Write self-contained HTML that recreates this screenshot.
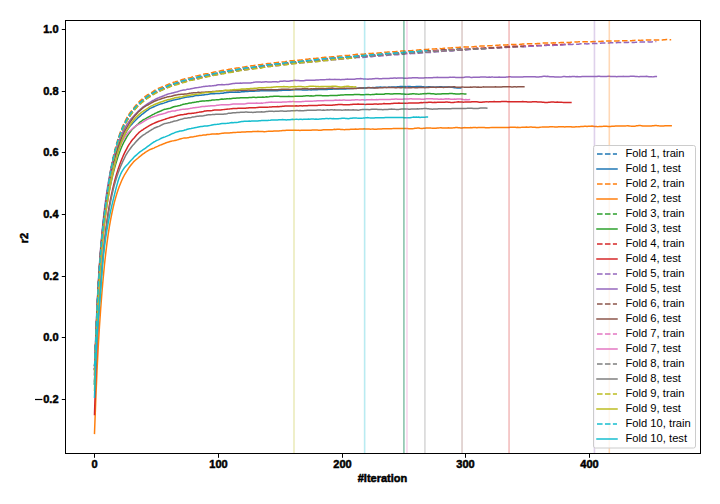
<!DOCTYPE html><html><head><meta charset="utf-8"><style>html,body{margin:0;padding:0;background:#fff;}svg{display:block;}</style></head><body><svg width="720" height="504" viewBox="0 0 720 504">
<rect x="0" y="0" width="720" height="504" fill="#ffffff"/>
<defs><clipPath id="ax"><rect x="65.5" y="20.5" width="635" height="433"/></clipPath></defs>
<g clip-path="url(#ax)" fill="none" stroke-width="1.5" stroke-linejoin="round" stroke-linecap="butt">
<path d="M94.50 368.98 L95.74 341.34 L96.97 312.44 L98.21 288.50 L99.45 268.82 L100.69 252.44 L101.92 238.61 L103.16 226.60 L104.40 215.76 L105.64 205.67 L106.88 196.17 L108.11 187.33 L109.35 179.27 L110.59 171.99 L111.83 165.43 L113.06 159.49 L114.30 154.09 L115.54 149.18 L116.78 144.71 L118.01 140.62 L119.25 136.87 L120.49 133.44 L121.72 130.30 L122.96 127.40 L124.20 124.73 L125.44 122.18 L126.68 119.83 L127.91 117.77 L129.15 115.74 L130.39 114.01 L131.62 112.22 L132.86 110.58 L134.10 109.02 L135.34 107.53 L136.57 106.14 L137.81 104.87 L139.05 103.69 L140.29 102.62 L141.53 101.52 L142.76 100.46 L144.00 99.44 L145.24 98.33 L146.47 97.32 L147.71 96.46 L148.95 95.53 L150.19 94.66 L151.43 93.91 L152.66 93.21 L153.90 92.41 L155.14 91.78 L156.38 91.24 L157.61 90.74 L158.85 90.04 L160.09 89.50 L161.32 88.85 L162.56 88.29 L163.80 87.72 L165.04 87.31 L166.28 86.94 L167.51 86.51 L168.75 85.91 L169.99 85.37 L171.23 84.90 L172.46 84.30 L173.70 83.90 L174.94 83.54 L176.18 83.15 L177.41 82.73 L178.65 82.44 L179.89 82.00 L181.12 81.65 L182.36 81.35 L183.60 80.94 L184.84 80.56 L186.07 80.23 L187.31 79.93 L188.55 79.54 L189.79 79.29 L191.03 78.98 L192.26 78.78 L193.50 78.37 L194.74 78.09 L195.98 77.73 L197.21 77.50 L198.45 77.11 L199.69 76.90 L200.93 76.56 L202.16 76.39 L203.40 76.01 L204.64 75.70 L205.88 75.47 L207.11 75.26 L208.35 74.98 L209.59 74.74 L210.82 74.52 L212.06 74.15 L213.30 73.90 L214.54 73.63 L215.78 73.37 L217.01 73.15 L218.25 72.92 L219.49 72.73 L220.73 72.40 L221.96 72.19 L223.20 71.96 L224.44 71.74 L225.68 71.52 L226.91 71.39 L228.15 71.16 L229.39 70.97 L230.62 70.80 L231.86 70.59 L233.10 70.37 L234.34 70.15 L235.58 69.85 L236.81 69.72 L238.05 69.43 L239.29 69.18 L240.53 68.97 L241.76 68.87 L243.00 68.65 L244.24 68.55 L245.47 68.44 L246.71 68.40 L247.95 68.23 L249.19 68.00 L250.43 67.82 L251.66 67.59 L252.90 67.41 L254.14 67.18 L255.38 67.03 L256.61 66.84 L257.85 66.64 L259.09 66.42 L260.33 66.18 L261.56 65.95 L262.80 65.72 L264.04 65.59 L265.27 65.43 L266.51 65.38 L267.75 65.31 L268.99 65.20 L270.23 65.04 L271.46 64.79 L272.70 64.64 L273.94 64.44 L275.18 64.23 L276.41 64.10 L277.65 64.04 L278.89 63.94 L280.12 63.72 L281.36 63.64 L282.60 63.52 L283.84 63.45 L285.08 63.33 L286.31 63.24 L287.55 63.08 L288.79 62.82 L290.02 62.62 L291.26 62.41 L292.50 62.22 L293.74 62.23 L294.98 62.06 L296.21 61.94 L297.45 61.89 L298.69 61.78 L299.93 61.51 L301.16 61.43 L302.40 61.21 L303.64 61.01 L304.88 60.94 L306.11 60.87 L307.35 60.77 L308.59 60.77 L309.83 60.67 L311.06 60.50 L312.30 60.39 L313.54 60.26 L314.77 59.99 L316.01 59.85 L317.25 59.78 L318.49 59.57 L319.73 59.46 L320.96 59.40 L322.20 59.19 L323.44 58.99 L324.68 58.85 L325.91 58.69 L327.15 58.50 L328.39 58.55 L329.62 58.39 L330.86 58.39 L332.10 58.34 L333.34 58.35 L334.58 58.13 L335.81 58.13 L337.05 57.93 L338.29 57.97 L339.52 57.77 L340.76 57.68 L342.00 57.69 L343.24 57.52 L344.48 57.28 L345.71 57.25 L346.95 57.13 L348.19 56.95 L349.43 56.90 L350.66 56.80 L351.90 56.71 L353.14 56.68 L354.38 56.51 L355.61 56.42 L356.85 56.34 L358.09 56.22 L359.32 56.10 L360.56 55.93 L361.80 55.82 L363.04 55.67 L364.28 55.47 L365.51 55.36 L366.75 55.42 L367.99 55.36 L369.23 55.27 L370.46 55.25 L371.70 55.14 L372.94 54.98 L374.18 54.88 L375.41 54.85 L376.65 54.71 L377.89 54.61 L379.12 54.54 L380.36 54.39 L381.60 54.23 L382.84 54.23 L384.07 54.16 L385.31 54.12 L386.55 54.11 L387.79 54.02 L389.03 53.90 L390.26 53.82 L391.50 53.73 L392.74 53.51 L393.98 53.46 L395.21 53.33 L396.45 53.20 L397.69 53.09 L398.93 53.05 L400.16 52.93 L401.40 52.79 L402.64 52.67 L403.88 52.60 L405.11 52.54 L406.35 52.46 L407.59 52.44 L408.82 52.45 L410.06 52.38 L411.30 52.30 L412.54 52.19 L413.78 52.16 L415.01 51.92 L416.25 51.72 L417.49 51.66 L418.73 51.49 L419.96 51.42 L421.20 51.48 L422.44 51.48 L423.68 51.32 L424.91 51.38 L426.15 51.18 L427.39 51.04 L428.62 50.93 L429.86 50.90 L431.10 50.84 L432.34 50.76 L433.57 50.74 L434.81 50.68 L436.05 50.57 L437.29 50.46 L438.53 50.33 L439.76 50.13 L441.00 50.09 L442.24 50.04 L443.48 49.95 L444.71 49.86 L445.95 49.88 L447.19 49.75 L448.43 49.69 L449.66 49.62 L450.90 49.70 L452.14 49.58 L453.38 49.51 L454.61 49.46 L455.85 49.30 L457.09 49.18 L458.32 49.17 L459.56 49.07 L460.80 48.96" stroke="#1f77b4" stroke-dasharray="5.55 2.4" stroke-dashoffset="5.0"/>
<path d="M94.50 384.07 L95.74 346.62 L96.97 314.50 L98.21 288.95 L99.45 268.22 L100.69 251.04 L101.92 236.52 L103.16 224.07 L104.40 213.26 L105.64 203.78 L106.88 195.41 L108.11 187.96 L109.35 181.29 L110.59 175.29 L111.83 169.87 L113.06 164.96 L114.30 160.49 L115.54 156.42 L116.78 152.69 L118.01 149.27 L119.25 146.11 L120.49 143.20 L121.72 140.49 L122.96 137.98 L124.20 135.64 L125.44 133.35 L126.68 131.22 L127.91 129.21 L129.15 127.35 L130.39 125.84 L131.62 124.39 L132.86 122.95 L134.10 121.70 L135.34 120.56 L136.57 119.28 L137.81 117.94 L139.05 116.91 L140.29 115.82 L141.53 114.69 L142.76 113.96 L144.00 112.93 L145.24 111.93 L146.47 110.93 L147.71 110.07 L148.95 109.11 L150.19 108.42 L151.43 107.83 L152.66 107.25 L153.90 106.79 L155.14 106.14 L156.38 105.66 L157.61 105.06 L158.85 104.62 L160.09 104.10 L161.32 103.79 L162.56 103.42 L163.80 103.11 L165.04 102.57 L166.28 102.18 L167.51 101.76 L168.75 101.32 L169.99 100.93 L171.23 100.70 L172.46 100.27 L173.70 99.97 L174.94 99.74 L176.18 99.47 L177.41 99.19 L178.65 99.06 L179.89 98.69 L181.12 98.36 L182.36 97.92 L183.60 97.69 L184.84 97.43 L186.07 97.13 L187.31 97.02 L188.55 96.99 L189.79 96.80 L191.03 96.57 L192.26 96.53 L193.50 96.16 L194.74 95.84 L195.98 95.63 L197.21 95.42 L198.45 95.39 L199.69 95.26 L200.93 95.30 L202.16 95.00 L203.40 95.01 L204.64 94.71 L205.88 94.60 L207.11 94.42 L208.35 94.24 L209.59 93.99 L210.82 93.76 L212.06 93.66 L213.30 93.45 L214.54 93.66 L215.78 93.56 L217.01 93.59 L218.25 93.54 L219.49 93.51 L220.73 93.33 L221.96 93.19 L223.20 93.16 L224.44 92.80 L225.68 92.72 L226.91 92.53 L228.15 92.39 L229.39 92.26 L230.62 92.34 L231.86 92.28 L233.10 92.27 L234.34 92.32 L235.58 92.37 L236.81 92.27 L238.05 92.11 L239.29 92.18 L240.53 92.04 L241.76 91.76 L243.00 91.77 L244.24 91.68 L245.47 91.38 L246.71 91.28 L247.95 91.39 L249.19 91.36 L250.43 91.36 L251.66 91.27 L252.90 91.25 L254.14 91.26 L255.38 91.11 L256.61 91.06 L257.85 91.11 L259.09 91.08 L260.33 90.81 L261.56 90.84 L262.80 90.79 L264.04 90.66 L265.27 90.60 L266.51 90.74 L267.75 90.87 L268.99 90.80 L270.23 90.71 L271.46 90.82 L272.70 90.82 L273.94 90.67 L275.18 90.63 L276.41 90.71 L277.65 90.65 L278.89 90.52 L280.12 90.33 L281.36 90.40 L282.60 90.30 L283.84 90.24 L285.08 90.23 L286.31 90.24 L287.55 90.13 L288.79 90.33 L290.02 90.16 L291.26 90.06 L292.50 89.98 L293.74 90.04 L294.98 89.78 L296.21 89.82 L297.45 89.67 L298.69 89.83 L299.93 89.77 L301.16 89.86 L302.40 89.93 L303.64 90.02 L304.88 89.88 L306.11 89.96 L307.35 89.96 L308.59 89.81 L309.83 89.82 L311.06 89.90 L312.30 89.71 L313.54 89.65 L314.77 89.70 L316.01 89.69 L317.25 89.66 L318.49 89.58 L319.73 89.60 L320.96 89.45 L322.20 89.62 L323.44 89.55 L324.68 89.58 L325.91 89.49 L327.15 89.61 L328.39 89.33 L329.62 89.28 L330.86 89.27 L332.10 89.18 L333.34 89.02 L334.58 89.02 L335.81 88.99 L337.05 88.94 L338.29 88.91 L339.52 88.91 L340.76 88.96 L342.00 88.86 L343.24 88.91 L344.48 88.93 L345.71 88.90 L346.95 88.76 L348.19 88.77 L349.43 88.66 L350.66 88.46 L351.90 88.50 L353.14 88.47 L354.38 88.33 L355.61 88.28 L356.85 88.38 L358.09 88.17 L359.32 88.07 L360.56 88.12 L361.80 88.07 L363.04 88.02 L364.28 87.86 L365.51 87.88 L366.75 87.81 L367.99 87.61 L369.23 87.60 L370.46 87.76 L371.70 87.68 L372.94 87.59 L374.18 87.68 L375.41 87.42 L376.65 87.32 L377.89 87.20 L379.12 87.18 L380.36 86.96 L381.60 87.16 L382.84 87.25 L384.07 87.27 L385.31 87.29 L386.55 87.38 L387.79 87.26 L389.03 87.11 L390.26 87.14 L391.50 87.07 L392.74 87.02 L393.98 87.07 L395.21 87.05 L396.45 86.92 L397.69 86.73 L398.93 86.66 L400.16 86.57 L401.40 86.58 L402.64 86.55 L403.88 86.63 L405.11 86.59 L406.35 86.69 L407.59 86.57 L408.82 86.57 L410.06 86.61 L411.30 86.78 L412.54 86.67 L413.78 86.74 L415.01 86.70 L416.25 86.61 L417.49 86.60 L418.73 86.48 L419.96 86.52 L421.20 86.55 L422.44 86.79 L423.68 86.76 L424.91 86.93 L426.15 86.94 L427.39 87.01 L428.62 86.83 L429.86 86.85 L431.10 86.89 L432.34 86.92 L433.57 87.07 L434.81 87.25 L436.05 87.12 L437.29 87.07 L438.53 87.00 L439.76 86.86 L441.00 86.72 L442.24 87.05 L443.48 87.02 L444.71 87.01 L445.95 87.00 L447.19 87.10 L448.43 86.92 L449.66 87.09 L450.90 87.15 L452.14 87.36 L453.38 87.57 L454.61 87.73 L455.85 87.82 L457.09 87.96 L458.32 87.96 L459.56 87.89 L460.80 87.95" stroke="#1f77b4" stroke-linecap="square"/>
<path d="M94.50 367.28 L95.74 339.64 L96.97 310.75 L98.21 286.80 L99.45 267.12 L100.69 250.74 L101.92 236.91 L103.16 224.91 L104.40 214.06 L105.64 203.98 L106.88 194.47 L108.11 185.64 L109.35 177.57 L110.59 170.30 L111.83 163.74 L113.06 157.79 L114.30 152.40 L115.54 147.49 L116.78 143.01 L118.01 138.92 L119.25 135.18 L120.49 131.75 L121.72 128.60 L122.96 125.71 L124.20 123.03 L125.44 120.51 L126.68 118.14 L127.91 115.90 L129.15 114.01 L130.39 112.23 L131.62 110.60 L132.86 109.02 L134.10 107.55 L135.34 105.94 L136.57 104.49 L137.81 103.11 L139.05 101.86 L140.29 100.63 L141.53 99.66 L142.76 98.49 L144.00 97.43 L145.24 96.43 L146.47 95.57 L147.71 94.71 L148.95 94.07 L150.19 93.39 L151.43 92.65 L152.66 91.82 L153.90 90.95 L155.14 90.08 L156.38 89.34 L157.61 88.73 L158.85 88.18 L160.09 87.67 L161.32 87.26 L162.56 86.70 L163.80 86.17 L165.04 85.65 L166.28 85.16 L167.51 84.59 L168.75 84.07 L169.99 83.62 L171.23 83.13 L172.46 82.68 L173.70 82.28 L174.94 81.94 L176.18 81.55 L177.41 81.20 L178.65 80.76 L179.89 80.30 L181.12 79.96 L182.36 79.51 L183.60 79.15 L184.84 78.83 L186.07 78.66 L187.31 78.40 L188.55 78.10 L189.79 77.81 L191.03 77.43 L192.26 77.01 L193.50 76.57 L194.74 76.24 L195.98 75.89 L197.21 75.79 L198.45 75.59 L199.69 75.27 L200.93 74.96 L202.16 74.68 L203.40 74.28 L204.64 73.99 L205.88 73.75 L207.11 73.67 L208.35 73.47 L209.59 73.17 L210.82 72.85 L212.06 72.64 L213.30 72.25 L214.54 72.01 L215.78 71.83 L217.01 71.62 L218.25 71.37 L219.49 71.21 L220.73 70.82 L221.96 70.56 L223.20 70.29 L224.44 70.10 L225.68 69.84 L226.91 69.75 L228.15 69.52 L229.39 69.26 L230.62 69.04 L231.86 68.76 L233.10 68.57 L234.34 68.37 L235.58 68.20 L236.81 68.10 L238.05 68.07 L239.29 67.84 L240.53 67.60 L241.76 67.44 L243.00 67.14 L244.24 66.94 L245.47 66.72 L246.71 66.53 L247.95 66.44 L249.19 66.23 L250.43 65.89 L251.66 65.75 L252.90 65.66 L254.14 65.45 L255.38 65.30 L256.61 65.20 L257.85 64.99 L259.09 64.81 L260.33 64.65 L261.56 64.42 L262.80 64.23 L264.04 64.05 L265.27 63.91 L266.51 63.76 L267.75 63.61 L268.99 63.53 L270.23 63.43 L271.46 63.20 L272.70 63.04 L273.94 62.86 L275.18 62.66 L276.41 62.55 L277.65 62.41 L278.89 62.21 L280.12 62.21 L281.36 62.11 L282.60 62.00 L283.84 61.96 L285.08 61.78 L286.31 61.48 L287.55 61.24 L288.79 61.12 L290.02 60.86 L291.26 60.73 L292.50 60.70 L293.74 60.58 L294.98 60.41 L296.21 60.35 L297.45 60.29 L298.69 60.16 L299.93 60.12 L301.16 59.89 L302.40 59.76 L303.64 59.61 L304.88 59.47 L306.11 59.18 L307.35 59.15 L308.59 58.95 L309.83 58.71 L311.06 58.61 L312.30 58.64 L313.54 58.48 L314.77 58.45 L316.01 58.36 L317.25 58.20 L318.49 57.99 L319.73 57.82 L320.96 57.63 L322.20 57.53 L323.44 57.40 L324.68 57.29 L325.91 57.26 L327.15 57.18 L328.39 57.05 L329.62 57.03 L330.86 56.94 L332.10 56.78 L333.34 56.66 L334.58 56.64 L335.81 56.36 L337.05 56.35 L338.29 56.18 L339.52 56.02 L340.76 55.89 L342.00 55.85 L343.24 55.63 L344.48 55.60 L345.71 55.59 L346.95 55.44 L348.19 55.38 L349.43 55.32 L350.66 55.19 L351.90 54.97 L353.14 54.79 L354.38 54.63 L355.61 54.50 L356.85 54.36 L358.09 54.28 L359.32 54.35 L360.56 54.29 L361.80 54.26 L363.04 54.16 L364.28 54.02 L365.51 53.82 L366.75 53.74 L367.99 53.54 L369.23 53.52 L370.46 53.47 L371.70 53.45 L372.94 53.37 L374.18 53.39 L375.41 53.24 L376.65 53.19 L377.89 53.01 L379.12 52.91 L380.36 52.73 L381.60 52.66 L382.84 52.48 L384.07 52.35 L385.31 52.21 L386.55 52.13 L387.79 52.00 L389.03 51.94 L390.26 51.92 L391.50 51.76 L392.74 51.70 L393.98 51.72 L395.21 51.64 L396.45 51.54 L397.69 51.46 L398.93 51.32 L400.16 51.13 L401.40 51.05 L402.64 50.95 L403.88 50.93 L405.11 50.94 L406.35 50.90 L407.59 50.82 L408.82 50.85 L410.06 50.75 L411.30 50.66 L412.54 50.54 L413.78 50.49 L415.01 50.29 L416.25 50.19 L417.49 50.00 L418.73 49.92 L419.96 49.81 L421.20 49.73 L422.44 49.73 L423.68 49.76 L424.91 49.59 L426.15 49.47 L427.39 49.39 L428.62 49.17 L429.86 49.04 L431.10 49.04 L432.34 49.00 L433.57 49.02 L434.81 48.94 L436.05 48.87 L437.29 48.78 L438.53 48.70 L439.76 48.57 L441.00 48.65 L442.24 48.56 L443.48 48.37 L444.71 48.23 L445.95 48.13 L447.19 47.99 L448.43 47.92 L449.66 47.94 L450.90 47.92 L452.14 47.79 L453.38 47.71 L454.61 47.59 L455.85 47.53 L457.09 47.48 L458.32 47.46 L459.56 47.32 L460.80 47.27 L462.04 47.20 L463.28 47.07 L464.51 46.87 L465.75 46.90 L466.99 46.96 L468.23 46.89 L469.46 46.90 L470.70 46.94 L471.94 46.87 L473.18 46.70 L474.41 46.57 L475.65 46.40 L476.89 46.40 L478.12 46.26 L479.36 46.16 L480.60 46.07 L481.84 46.11 L483.07 46.03 L484.31 45.89 L485.55 45.89 L486.79 45.97 L488.03 45.80 L489.26 45.78 L490.50 45.81 L491.74 45.68 L492.98 45.59 L494.21 45.55 L495.45 45.46 L496.69 45.33 L497.93 45.29 L499.16 45.12 L500.40 45.11 L501.64 45.01 L502.88 44.99 L504.11 44.90 L505.35 44.96 L506.59 44.89 L507.82 44.72 L509.06 44.62 L510.30 44.58 L511.54 44.51 L512.78 44.40 L514.01 44.50 L515.25 44.56 L516.49 44.58 L517.73 44.43 L518.96 44.41 L520.20 44.34 L521.44 44.23 L522.67 44.11 L523.91 44.06 L525.15 44.10 L526.39 43.93 L527.62 43.82 L528.86 43.82 L530.10 43.85 L531.34 43.69 L532.58 43.72 L533.81 43.70 L535.05 43.67 L536.29 43.69 L537.53 43.54 L538.76 43.47 L540.00 43.42 L541.24 43.29 L542.48 43.08 L543.71 43.11 L544.95 43.12 L546.19 43.09 L547.42 43.06 L548.66 43.04 L549.90 43.07 L551.14 42.95 L552.38 42.89 L553.61 42.78 L554.85 42.90 L556.09 42.82 L557.33 42.77 L558.56 42.70 L559.80 42.73 L561.04 42.59 L562.28 42.52 L563.51 42.47 L564.75 42.51 L565.99 42.53 L567.23 42.42 L568.46 42.45 L569.70 42.39 L570.94 42.23 L572.17 42.11 L573.41 42.09 L574.65 42.00 L575.89 41.92 L577.12 41.88 L578.36 41.85 L579.60 41.78 L580.84 41.75 L582.08 41.80 L583.31 41.79 L584.55 41.76 L585.79 41.80 L587.03 41.84 L588.26 41.72 L589.50 41.77 L590.74 41.78 L591.98 41.72 L593.21 41.57 L594.45 41.67 L595.69 41.55 L596.92 41.44 L598.16 41.45 L599.40 41.51 L600.64 41.39 L601.88 41.30 L603.11 41.29 L604.35 41.14 L605.59 41.01 L606.83 41.04 L608.06 41.10 L609.30 41.01 L610.54 41.05 L611.77 41.00 L613.01 40.95 L614.25 40.99 L615.49 41.02 L616.73 40.93 L617.96 40.98 L619.20 40.85 L620.44 40.82 L621.68 40.80 L622.91 40.73 L624.15 40.80 L625.39 40.80 L626.62 40.74 L627.86 40.72 L629.10 40.77 L630.34 40.69 L631.58 40.63 L632.81 40.53 L634.05 40.41 L635.29 40.35 L636.52 40.30 L637.76 40.28 L639.00 40.35 L640.24 40.43 L641.48 40.31 L642.71 40.18 L643.95 40.16 L645.19 40.00 L646.43 39.94 L647.66 39.99 L648.90 40.06 L650.14 40.07 L651.38 40.11 L652.61 40.00 L653.85 40.04 L655.09 39.92 L656.33 39.88 L657.56 39.95 L658.80 40.09 L660.04 40.07 L661.27 40.04 L662.51 40.01 L663.75 39.81 L664.99 39.68 L666.23 39.55 L667.46 39.57 L668.70 39.61 L669.94 39.67 L671.18 39.66" stroke="#ff7f0e" stroke-dasharray="5.55 2.4" stroke-dashoffset="6.0"/>
<path d="M94.50 433.39 L95.74 400.37 L96.97 371.52 L98.21 347.34 L99.45 326.67 L100.69 308.64 L101.92 292.65 L103.16 278.32 L104.40 265.49 L105.64 254.08 L106.88 243.94 L108.11 234.94 L109.35 226.95 L110.59 219.84 L111.83 213.49 L113.06 207.80 L114.30 202.68 L115.54 198.05 L116.78 193.85 L118.01 190.04 L119.25 186.57 L120.49 183.42 L121.72 180.53 L122.96 177.89 L124.20 175.47 L125.44 173.46 L126.68 171.43 L127.91 169.42 L129.15 167.47 L130.39 165.80 L131.62 164.21 L132.86 162.83 L134.10 161.33 L135.34 160.28 L136.57 159.23 L137.81 158.21 L139.05 157.11 L140.29 156.22 L141.53 155.12 L142.76 154.18 L144.00 153.36 L145.24 152.35 L146.47 151.67 L147.71 150.87 L148.95 150.06 L150.19 149.41 L151.43 149.05 L152.66 148.46 L153.90 148.12 L155.14 147.44 L156.38 146.88 L157.61 146.32 L158.85 145.70 L160.09 145.16 L161.32 144.77 L162.56 144.24 L163.80 143.67 L165.04 143.28 L166.28 142.68 L167.51 142.34 L168.75 141.96 L169.99 141.56 L171.23 141.20 L172.46 140.88 L173.70 140.72 L174.94 140.39 L176.18 140.14 L177.41 139.87 L178.65 139.57 L179.89 138.94 L181.12 138.66 L182.36 138.37 L183.60 138.12 L184.84 137.99 L186.07 137.90 L187.31 137.80 L188.55 137.64 L189.79 137.33 L191.03 137.09 L192.26 136.90 L193.50 136.68 L194.74 136.39 L195.98 136.26 L197.21 136.05 L198.45 135.81 L199.69 135.50 L200.93 135.48 L202.16 135.35 L203.40 135.11 L204.64 135.03 L205.88 134.93 L207.11 134.52 L208.35 134.44 L209.59 134.38 L210.82 134.16 L212.06 133.95 L213.30 134.02 L214.54 133.90 L215.78 133.89 L217.01 133.85 L218.25 133.99 L219.49 133.73 L220.73 133.61 L221.96 133.35 L223.20 133.20 L224.44 132.98 L225.68 133.02 L226.91 132.98 L228.15 133.02 L229.39 132.94 L230.62 132.87 L231.86 132.79 L233.10 132.58 L234.34 132.38 L235.58 132.40 L236.81 132.31 L238.05 132.19 L239.29 132.16 L240.53 132.23 L241.76 132.04 L243.00 131.94 L244.24 132.01 L245.47 131.99 L246.71 131.86 L247.95 131.80 L249.19 131.87 L250.43 131.82 L251.66 131.67 L252.90 131.44 L254.14 131.48 L255.38 131.42 L256.61 131.38 L257.85 131.29 L259.09 131.48 L260.33 131.56 L261.56 131.59 L262.80 131.59 L264.04 131.68 L265.27 131.63 L266.51 131.42 L267.75 131.35 L268.99 131.18 L270.23 131.22 L271.46 131.14 L272.70 131.15 L273.94 131.01 L275.18 131.12 L276.41 131.04 L277.65 131.05 L278.89 130.90 L280.12 130.87 L281.36 130.65 L282.60 130.52 L283.84 130.40 L285.08 130.47 L286.31 130.35 L287.55 130.36 L288.79 130.36 L290.02 130.31 L291.26 130.18 L292.50 130.28 L293.74 130.18 L294.98 130.20 L296.21 130.20 L297.45 130.37 L298.69 130.27 L299.93 130.40 L301.16 130.29 L302.40 130.28 L303.64 130.15 L304.88 130.30 L306.11 130.24 L307.35 130.26 L308.59 130.25 L309.83 130.25 L311.06 130.15 L312.30 130.00 L313.54 129.98 L314.77 129.94 L316.01 130.08 L317.25 130.12 L318.49 130.23 L319.73 130.26 L320.96 130.35 L322.20 130.07 L323.44 129.84 L324.68 129.75 L325.91 129.71 L327.15 129.72 L328.39 129.80 L329.62 129.72 L330.86 129.73 L332.10 129.69 L333.34 129.56 L334.58 129.35 L335.81 129.49 L337.05 129.30 L338.29 129.23 L339.52 129.25 L340.76 129.38 L342.00 129.39 L343.24 129.56 L344.48 129.65 L345.71 129.57 L346.95 129.47 L348.19 129.43 L349.43 129.43 L350.66 129.27 L351.90 129.27 L353.14 129.34 L354.38 129.27 L355.61 129.09 L356.85 129.16 L358.09 129.21 L359.32 129.09 L360.56 129.12 L361.80 129.07 L363.04 128.96 L364.28 128.85 L365.51 128.97 L366.75 129.04 L367.99 129.09 L369.23 129.10 L370.46 129.13 L371.70 129.10 L372.94 129.02 L374.18 129.15 L375.41 129.17 L376.65 129.17 L377.89 129.03 L379.12 128.97 L380.36 128.95 L381.60 128.97 L382.84 128.81 L384.07 128.82 L385.31 128.78 L386.55 128.81 L387.79 128.75 L389.03 128.86 L390.26 128.86 L391.50 128.82 L392.74 128.62 L393.98 128.51 L395.21 128.57 L396.45 128.49 L397.69 128.59 L398.93 128.54 L400.16 128.50 L401.40 128.47 L402.64 128.52 L403.88 128.44 L405.11 128.55 L406.35 128.61 L407.59 128.49 L408.82 128.68 L410.06 128.69 L411.30 128.69 L412.54 128.68 L413.78 128.56 L415.01 128.25 L416.25 128.18 L417.49 128.10 L418.73 128.06 L419.96 128.34 L421.20 128.48 L422.44 128.42 L423.68 128.36 L424.91 128.32 L426.15 128.09 L427.39 127.92 L428.62 127.95 L429.86 127.95 L431.10 128.08 L432.34 128.15 L433.57 128.23 L434.81 128.30 L436.05 128.19 L437.29 128.05 L438.53 127.97 L439.76 127.85 L441.00 127.70 L442.24 127.92 L443.48 127.94 L444.71 127.88 L445.95 127.91 L447.19 127.91 L448.43 127.87 L449.66 127.92 L450.90 127.96 L452.14 127.89 L453.38 127.84 L454.61 127.65 L455.85 127.45 L457.09 127.51 L458.32 127.74 L459.56 127.82 L460.80 127.94 L462.04 127.99 L463.28 127.79 L464.51 127.62 L465.75 127.65 L466.99 127.65 L468.23 127.63 L469.46 127.64 L470.70 127.60 L471.94 127.65 L473.18 127.48 L474.41 127.58 L475.65 127.60 L476.89 127.76 L478.12 127.58 L479.36 127.59 L480.60 127.56 L481.84 127.58 L483.07 127.45 L484.31 127.47 L485.55 127.69 L486.79 127.75 L488.03 127.71 L489.26 127.65 L490.50 127.62 L491.74 127.43 L492.98 127.39 L494.21 127.45 L495.45 127.51 L496.69 127.48 L497.93 127.56 L499.16 127.52 L500.40 127.48 L501.64 127.54 L502.88 127.62 L504.11 127.56 L505.35 127.52 L506.59 127.56 L507.82 127.38 L509.06 127.38 L510.30 127.25 L511.54 127.33 L512.78 127.29 L514.01 127.36 L515.25 127.30 L516.49 127.44 L517.73 127.36 L518.96 127.43 L520.20 127.53 L521.44 127.37 L522.67 127.28 L523.91 127.24 L525.15 127.18 L526.39 127.00 L527.62 127.20 L528.86 127.23 L530.10 127.11 L531.34 127.02 L532.58 127.13 L533.81 127.18 L535.05 127.32 L536.29 127.57 L537.53 127.53 L538.76 127.47 L540.00 127.30 L541.24 127.12 L542.48 126.93 L543.71 127.08 L544.95 127.06 L546.19 127.07 L547.42 126.98 L548.66 126.94 L549.90 126.76 L551.14 126.67 L552.38 126.72 L553.61 126.87 L554.85 126.94 L556.09 126.99 L557.33 126.98 L558.56 126.84 L559.80 126.76 L561.04 126.82 L562.28 126.84 L563.51 126.82 L564.75 126.97 L565.99 126.86 L567.23 126.80 L568.46 126.68 L569.70 126.84 L570.94 126.68 L572.17 126.95 L573.41 126.89 L574.65 126.91 L575.89 126.79 L577.12 126.87 L578.36 126.69 L579.60 126.69 L580.84 126.55 L582.08 126.60 L583.31 126.47 L584.55 126.34 L585.79 126.36 L587.03 126.52 L588.26 126.26 L589.50 126.19 L590.74 126.18 L591.98 126.10 L593.21 126.14 L594.45 126.39 L595.69 126.44 L596.92 126.56 L598.16 126.63 L599.40 126.47 L600.64 126.45 L601.88 126.42 L603.11 126.34 L604.35 126.19 L605.59 126.36 L606.83 126.31 L608.06 126.41 L609.30 126.45 L610.54 126.46 L611.77 126.32 L613.01 126.31 L614.25 126.18 L615.49 126.10 L616.73 126.10 L617.96 126.09 L619.20 125.88 L620.44 126.05 L621.68 126.11 L622.91 125.96 L624.15 125.88 L625.39 125.91 L626.62 125.82 L627.86 125.69 L629.10 125.94 L630.34 126.07 L631.58 126.15 L632.81 126.19 L634.05 126.27 L635.29 126.16 L636.52 125.76 L637.76 125.75 L639.00 125.62 L640.24 125.61 L641.48 125.67 L642.71 126.03 L643.95 126.06 L645.19 126.08 L646.43 126.07 L647.66 125.94 L648.90 125.94 L650.14 125.98 L651.38 125.94 L652.61 125.77 L653.85 125.75 L655.09 125.60 L656.33 125.58 L657.56 125.64 L658.80 125.82 L660.04 125.95 L661.27 126.04 L662.51 126.04 L663.75 125.94 L664.99 125.82 L666.23 125.70 L667.46 125.74 L668.70 125.65 L669.94 125.68 L671.18 125.72" stroke="#ff7f0e" stroke-linecap="square"/>
<path d="M94.50 369.28 L95.74 341.65 L96.97 312.75 L98.21 288.81 L99.45 269.13 L100.69 252.75 L101.92 238.92 L103.16 226.91 L104.40 216.06 L105.64 205.98 L106.88 196.48 L108.11 187.64 L109.35 179.58 L110.59 172.30 L111.83 165.74 L113.06 159.80 L114.30 154.40 L115.54 149.49 L116.78 145.02 L118.01 140.92 L119.25 137.18 L120.49 133.75 L121.72 130.61 L122.96 127.71 L124.20 125.04 L125.44 122.45 L126.68 120.22 L127.91 118.30 L129.15 116.29 L130.39 114.33 L131.62 112.41 L132.86 110.74 L134.10 109.07 L135.34 107.68 L136.57 106.39 L137.81 105.15 L139.05 103.92 L140.29 102.91 L141.53 101.76 L142.76 100.69 L144.00 99.74 L145.24 98.75 L146.47 97.66 L147.71 96.91 L148.95 96.05 L150.19 95.23 L151.43 94.54 L152.66 93.84 L153.90 93.06 L155.14 92.45 L156.38 91.81 L157.61 91.16 L158.85 90.61 L160.09 90.01 L161.32 89.46 L162.56 88.93 L163.80 88.30 L165.04 87.71 L166.28 87.15 L167.51 86.51 L168.75 85.93 L169.99 85.52 L171.23 85.12 L172.46 84.66 L173.70 84.29 L174.94 83.86 L176.18 83.45 L177.41 83.02 L178.65 82.77 L179.89 82.39 L181.12 82.15 L182.36 81.80 L183.60 81.40 L184.84 80.94 L186.07 80.63 L187.31 80.20 L188.55 79.93 L189.79 79.63 L191.03 79.25 L192.26 78.87 L193.50 78.67 L194.74 78.22 L195.98 77.90 L197.21 77.73 L198.45 77.56 L199.69 77.21 L200.93 76.91 L202.16 76.63 L203.40 76.35 L204.64 76.01 L205.88 75.68 L207.11 75.49 L208.35 75.28 L209.59 74.95 L210.82 74.81 L212.06 74.59 L213.30 74.41 L214.54 74.15 L215.78 73.92 L217.01 73.58 L218.25 73.41 L219.49 73.12 L220.73 72.85 L221.96 72.71 L223.20 72.52 L224.44 72.25 L225.68 71.97 L226.91 71.79 L228.15 71.54 L229.39 71.24 L230.62 71.07 L231.86 70.80 L233.10 70.52 L234.34 70.20 L235.58 70.08 L236.81 69.89 L238.05 69.81 L239.29 69.74 L240.53 69.67 L241.76 69.38 L243.00 69.22 L244.24 69.03 L245.47 68.71 L246.71 68.48 L247.95 68.32 L249.19 68.09 L250.43 67.92 L251.66 67.84 L252.90 67.67 L254.14 67.55 L255.38 67.37 L256.61 67.19 L257.85 67.01 L259.09 66.77 L260.33 66.54 L261.56 66.45 L262.80 66.27 L264.04 66.01 L265.27 65.83 L266.51 65.76 L267.75 65.51 L268.99 65.35 L270.23 65.41 L271.46 65.33 L272.70 65.02 L273.94 64.92 L275.18 64.79 L276.41 64.46 L277.65 64.35 L278.89 64.32 L280.12 64.12 L281.36 64.03 L282.60 63.91 L283.84 63.81 L285.08 63.64 L286.31 63.47 L287.55 63.17 L288.79 63.10 L290.02 62.88 L291.26 62.73 L292.50 62.73 L293.74 62.68 L294.98 62.49 L296.21 62.34 L297.45 62.12 L298.69 61.89 L299.93 61.75 L301.16 61.64 L302.40 61.53 L303.64 61.48 L304.88 61.28 L306.11 61.20 L307.35 61.06 L308.59 61.06 L309.83 61.04 L311.06 60.99 L312.30 60.92 L313.54 60.78 L314.77 60.47 L316.01 60.31 L317.25 60.23 L318.49 60.00 L319.73 59.93 L320.96 59.88 L322.20 59.75 L323.44 59.55 L324.68 59.42 L325.91 59.28 L327.15 59.27 L328.39 59.16 L329.62 59.09 L330.86 58.95 L332.10 58.87 L333.34 58.61 L334.58 58.42 L335.81 58.34 L337.05 58.23 L338.29 58.09 L339.52 58.07 L340.76 58.00 L342.00 57.80 L343.24 57.71 L344.48 57.59 L345.71 57.38 L346.95 57.24 L348.19 57.19 L349.43 57.19 L350.66 57.22 L351.90 57.24 L353.14 57.08 L354.38 56.96 L355.61 56.84 L356.85 56.57 L358.09 56.46 L359.32 56.43 L360.56 56.32 L361.80 56.15 L363.04 56.05 L364.28 55.84 L365.51 55.83 L366.75 55.79 L367.99 55.66 L369.23 55.63 L370.46 55.64 L371.70 55.39 L372.94 55.28 L374.18 55.23 L375.41 55.16 L376.65 55.00 L377.89 54.92 L379.12 54.86 L380.36 54.71 L381.60 54.56 L382.84 54.47 L384.07 54.43 L385.31 54.31 L386.55 54.29 L387.79 54.28 L389.03 54.15 L390.26 53.98 L391.50 53.86 L392.74 53.77 L393.98 53.60 L395.21 53.57 L396.45 53.62 L397.69 53.61 L398.93 53.51 L400.16 53.39 L401.40 53.33 L402.64 53.12 L403.88 52.98 L405.11 52.81 L406.35 52.70 L407.59 52.54 L408.82 52.51 L410.06 52.41 L411.30 52.36 L412.54 52.29 L413.78 52.12 L415.01 52.01 L416.25 51.86 L417.49 51.75 L418.73 51.71 L419.96 51.70 L421.20 51.61 L422.44 51.56 L423.68 51.55 L424.91 51.39 L426.15 51.37 L427.39 51.32 L428.62 51.26 L429.86 51.15 L431.10 51.16 L432.34 51.12 L433.57 51.06 L434.81 51.04 L436.05 50.87 L437.29 50.80 L438.53 50.73 L439.76 50.52 L441.00 50.49 L442.24 50.55 L443.48 50.39 L444.71 50.25 L445.95 50.26 L447.19 50.03 L448.43 49.81 L449.66 49.75 L450.90 49.66 L452.14 49.61 L453.38 49.64 L454.61 49.71 L455.85 49.63 L457.09 49.61 L458.32 49.50 L459.56 49.43 L460.80 49.39 L462.04 49.35 L463.28 49.27 L464.51 49.21 L465.75 49.11" stroke="#2ca02c" stroke-dasharray="5.55 2.4" stroke-dashoffset="4.9"/>
<path d="M94.50 384.08 L95.74 355.82 L96.97 325.67 L98.21 300.48 L99.45 279.65 L100.69 262.22 L101.92 247.44 L103.16 234.75 L104.40 223.75 L105.64 214.12 L106.88 205.60 L108.11 197.98 L109.35 191.11 L110.59 184.86 L111.83 179.16 L113.06 173.91 L114.30 169.07 L115.54 164.59 L116.78 160.45 L118.01 156.61 L119.25 153.08 L120.49 149.82 L121.72 146.81 L122.96 144.05 L124.20 141.51 L125.44 139.29 L126.68 137.11 L127.91 135.10 L129.15 133.42 L130.39 131.71 L131.62 130.06 L132.86 128.80 L134.10 127.70 L135.34 126.40 L136.57 125.37 L137.81 124.31 L139.05 122.96 L140.29 121.85 L141.53 121.04 L142.76 120.12 L144.00 119.38 L145.24 118.81 L146.47 118.11 L147.71 117.32 L148.95 116.77 L150.19 116.09 L151.43 115.43 L152.66 114.64 L153.90 114.06 L155.14 113.29 L156.38 112.83 L157.61 112.29 L158.85 111.81 L160.09 111.24 L161.32 110.78 L162.56 110.13 L163.80 109.59 L165.04 109.26 L166.28 109.10 L167.51 108.78 L168.75 108.49 L169.99 108.19 L171.23 107.80 L172.46 107.28 L173.70 106.81 L174.94 106.52 L176.18 106.36 L177.41 106.05 L178.65 105.64 L179.89 105.45 L181.12 105.08 L182.36 104.60 L183.60 104.31 L184.84 104.09 L186.07 103.84 L187.31 103.64 L188.55 103.33 L189.79 103.11 L191.03 103.00 L192.26 102.60 L193.50 102.50 L194.74 102.28 L195.98 102.07 L197.21 101.76 L198.45 101.65 L199.69 101.37 L200.93 101.24 L202.16 101.08 L203.40 101.03 L204.64 100.89 L205.88 100.87 L207.11 100.81 L208.35 100.79 L209.59 100.59 L210.82 100.40 L212.06 100.09 L213.30 99.97 L214.54 99.91 L215.78 99.83 L217.01 99.67 L218.25 99.65 L219.49 99.50 L220.73 99.24 L221.96 98.99 L223.20 99.14 L224.44 99.04 L225.68 99.01 L226.91 98.84 L228.15 98.87 L229.39 98.61 L230.62 98.67 L231.86 98.41 L233.10 98.36 L234.34 98.34 L235.58 98.17 L236.81 98.02 L238.05 98.07 L239.29 97.95 L240.53 97.78 L241.76 97.80 L243.00 97.66 L244.24 97.71 L245.47 97.70 L246.71 97.79 L247.95 97.68 L249.19 97.55 L250.43 97.43 L251.66 97.54 L252.90 97.35 L254.14 97.33 L255.38 97.43 L256.61 97.41 L257.85 97.22 L259.09 97.17 L260.33 97.20 L261.56 97.14 L262.80 97.10 L264.04 97.15 L265.27 97.03 L266.51 96.83 L267.75 96.88 L268.99 96.84 L270.23 96.61 L271.46 96.60 L272.70 96.56 L273.94 96.28 L275.18 96.18 L276.41 96.24 L277.65 96.21 L278.89 96.29 L280.12 96.47 L281.36 96.46 L282.60 96.58 L283.84 96.59 L285.08 96.57 L286.31 96.43 L287.55 96.39 L288.79 96.35 L290.02 96.42 L291.26 96.46 L292.50 96.42 L293.74 96.42 L294.98 96.25 L296.21 96.17 L297.45 96.20 L298.69 96.27 L299.93 96.14 L301.16 96.19 L302.40 96.19 L303.64 96.00 L304.88 95.91 L306.11 95.81 L307.35 95.78 L308.59 95.79 L309.83 95.97 L311.06 95.86 L312.30 96.02 L313.54 95.88 L314.77 95.77 L316.01 95.41 L317.25 95.40 L318.49 95.38 L319.73 95.43 L320.96 95.38 L322.20 95.67 L323.44 95.72 L324.68 95.78 L325.91 95.79 L327.15 95.73 L328.39 95.63 L329.62 95.60 L330.86 95.40 L332.10 95.41 L333.34 95.46 L334.58 95.46 L335.81 95.38 L337.05 95.45 L338.29 95.23 L339.52 95.21 L340.76 95.06 L342.00 94.94 L343.24 94.88 L344.48 94.83 L345.71 94.74 L346.95 94.68 L348.19 94.81 L349.43 94.76 L350.66 94.81 L351.90 94.78 L353.14 94.74 L354.38 94.58 L355.61 94.52 L356.85 94.54 L358.09 94.60 L359.32 94.62 L360.56 94.75 L361.80 94.79 L363.04 94.73 L364.28 94.63 L365.51 94.60 L366.75 94.57 L367.99 94.47 L369.23 94.58 L370.46 94.64 L371.70 94.58 L372.94 94.49 L374.18 94.49 L375.41 94.13 L376.65 94.08 L377.89 94.14 L379.12 94.24 L380.36 94.23 L381.60 94.28 L382.84 94.23 L384.07 94.19 L385.31 93.79 L386.55 93.78 L387.79 93.85 L389.03 93.84 L390.26 93.90 L391.50 94.04 L392.74 93.94 L393.98 93.85 L395.21 93.77 L396.45 93.74 L397.69 93.81 L398.93 93.68 L400.16 93.83 L401.40 93.98 L402.64 93.91 L403.88 93.98 L405.11 94.26 L406.35 94.27 L407.59 94.24 L408.82 94.24 L410.06 94.06 L411.30 93.95 L412.54 93.77 L413.78 93.70 L415.01 93.88 L416.25 93.98 L417.49 94.11 L418.73 94.14 L419.96 94.06 L421.20 93.90 L422.44 93.85 L423.68 93.67 L424.91 93.60 L426.15 93.69 L427.39 93.57 L428.62 93.59 L429.86 93.57 L431.10 93.85 L432.34 93.83 L433.57 93.87 L434.81 93.92 L436.05 94.17 L437.29 94.07 L438.53 94.06 L439.76 94.06 L441.00 93.92 L442.24 93.74 L443.48 93.76 L444.71 93.83 L445.95 93.83 L447.19 93.81 L448.43 93.81 L449.66 93.56 L450.90 93.53 L452.14 93.57 L453.38 93.64 L454.61 93.67 L455.85 93.92 L457.09 93.99 L458.32 93.99 L459.56 93.99 L460.80 93.85 L462.04 93.76 L463.28 93.87 L464.51 93.89 L465.75 93.93" stroke="#2ca02c" stroke-linecap="square"/>
<path d="M94.50 369.28 L95.74 341.65 L96.97 312.75 L98.21 288.81 L99.45 269.13 L100.69 252.75 L101.92 238.92 L103.16 226.91 L104.40 216.06 L105.64 205.98 L106.88 196.48 L108.11 187.64 L109.35 179.58 L110.59 172.30 L111.83 165.74 L113.06 159.80 L114.30 154.40 L115.54 149.49 L116.78 145.02 L118.01 140.92 L119.25 137.18 L120.49 133.75 L121.72 130.61 L122.96 127.71 L124.20 125.04 L125.44 122.57 L126.68 120.35 L127.91 118.14 L129.15 116.09 L130.39 114.10 L131.62 112.31 L132.86 110.67 L134.10 109.25 L135.34 107.87 L136.57 106.52 L137.81 105.23 L139.05 103.96 L140.29 102.76 L141.53 101.60 L142.76 100.58 L144.00 99.59 L145.24 98.65 L146.47 97.82 L147.71 96.96 L148.95 96.03 L150.19 95.14 L151.43 94.38 L152.66 93.52 L153.90 92.81 L155.14 92.24 L156.38 91.64 L157.61 91.08 L158.85 90.48 L160.09 89.88 L161.32 89.21 L162.56 88.77 L163.80 88.08 L165.04 87.56 L166.28 87.04 L167.51 86.60 L168.75 86.03 L169.99 85.54 L171.23 85.11 L172.46 84.74 L173.70 84.30 L174.94 83.81 L176.18 83.58 L177.41 83.19 L178.65 82.82 L179.89 82.30 L181.12 81.92 L182.36 81.47 L183.60 81.09 L184.84 80.70 L186.07 80.50 L187.31 80.23 L188.55 79.82 L189.79 79.52 L191.03 79.20 L192.26 78.85 L193.50 78.46 L194.74 78.22 L195.98 77.96 L197.21 77.65 L198.45 77.37 L199.69 77.23 L200.93 77.01 L202.16 76.66 L203.40 76.41 L204.64 76.06 L205.88 75.71 L207.11 75.43 L208.35 75.19 L209.59 74.96 L210.82 74.82 L212.06 74.55 L213.30 74.29 L214.54 74.14 L215.78 73.92 L217.01 73.62 L218.25 73.48 L219.49 73.26 L220.73 72.88 L221.96 72.60 L223.20 72.41 L224.44 72.16 L225.68 71.87 L226.91 71.74 L228.15 71.58 L229.39 71.35 L230.62 71.03 L231.86 70.86 L233.10 70.54 L234.34 70.22 L235.58 70.08 L236.81 69.95 L238.05 69.78 L239.29 69.66 L240.53 69.47 L241.76 69.15 L243.00 68.92 L244.24 68.67 L245.47 68.51 L246.71 68.35 L247.95 68.29 L249.19 68.16 L250.43 68.10 L251.66 67.83 L252.90 67.72 L254.14 67.45 L255.38 67.33 L256.61 67.08 L257.85 66.93 L259.09 66.74 L260.33 66.60 L261.56 66.36 L262.80 66.21 L264.04 66.10 L265.27 65.99 L266.51 65.78 L267.75 65.63 L268.99 65.47 L270.23 65.27 L271.46 65.14 L272.70 65.10 L273.94 65.02 L275.18 64.78 L276.41 64.66 L277.65 64.41 L278.89 64.28 L280.12 64.09 L281.36 64.03 L282.60 63.90 L283.84 63.73 L285.08 63.52 L286.31 63.36 L287.55 63.16 L288.79 62.92 L290.02 62.81 L291.26 62.68 L292.50 62.55 L293.74 62.41 L294.98 62.41 L296.21 62.34 L297.45 62.23 L298.69 62.04 L299.93 61.94 L301.16 61.80 L302.40 61.66 L303.64 61.49 L304.88 61.44 L306.11 61.38 L307.35 61.25 L308.59 61.10 L309.83 61.00 L311.06 60.86 L312.30 60.70 L313.54 60.57 L314.77 60.42 L316.01 60.24 L317.25 60.22 L318.49 60.06 L319.73 59.93 L320.96 59.89 L322.20 59.75 L323.44 59.52 L324.68 59.39 L325.91 59.28 L327.15 59.02 L328.39 58.92 L329.62 58.85 L330.86 58.67 L332.10 58.57 L333.34 58.47 L334.58 58.40 L335.81 58.29 L337.05 58.31 L338.29 58.21 L339.52 58.22 L340.76 58.07 L342.00 57.94 L343.24 57.88 L344.48 57.71 L345.71 57.63 L346.95 57.51 L348.19 57.43 L349.43 57.25 L350.66 57.10 L351.90 57.02 L353.14 56.83 L354.38 56.55 L355.61 56.38 L356.85 56.31 L358.09 56.14 L359.32 56.09 L360.56 56.15 L361.80 56.12 L363.04 56.09 L364.28 55.88 L365.51 55.80 L366.75 55.76 L367.99 55.65 L369.23 55.58 L370.46 55.50 L371.70 55.49 L372.94 55.33 L374.18 55.20 L375.41 55.05 L376.65 55.06 L377.89 54.94 L379.12 54.91 L380.36 54.77 L381.60 54.62 L382.84 54.55 L384.07 54.49 L385.31 54.22 L386.55 54.17 L387.79 54.14 L389.03 53.91 L390.26 53.74 L391.50 53.73 L392.74 53.69 L393.98 53.50 L395.21 53.44 L396.45 53.43 L397.69 53.38 L398.93 53.29 L400.16 53.26 L401.40 53.17 L402.64 53.02 L403.88 52.97 L405.11 52.86 L406.35 52.82 L407.59 52.67 L408.82 52.64 L410.06 52.53 L411.30 52.48 L412.54 52.41 L413.78 52.39 L415.01 52.23 L416.25 52.13 L417.49 51.94 L418.73 51.83 L419.96 51.75 L421.20 51.68 L422.44 51.59 L423.68 51.65 L424.91 51.60 L426.15 51.50 L427.39 51.48 L428.62 51.36 L429.86 51.14 L431.10 51.02 L432.34 50.97 L433.57 50.82 L434.81 50.72 L436.05 50.61 L437.29 50.46 L438.53 50.36 L439.76 50.23 L441.00 50.27 L442.24 50.31 L443.48 50.22 L444.71 50.22 L445.95 50.12 L447.19 50.04 L448.43 49.97 L449.66 49.94 L450.90 49.81 L452.14 49.86 L453.38 49.76 L454.61 49.66 L455.85 49.59 L457.09 49.52 L458.32 49.45 L459.56 49.41 L460.80 49.50 L462.04 49.51 L463.28 49.49 L464.51 49.46 L465.75 49.36 L466.99 49.11 L468.23 49.00 L469.46 48.86 L470.70 48.68 L471.94 48.59 L473.18 48.53 L474.41 48.39 L475.65 48.44 L476.89 48.33 L478.12 48.35 L479.36 48.31 L480.60 48.32 L481.84 48.21 L483.07 48.21 L484.31 48.08 L485.55 48.03 L486.79 47.94 L488.03 47.89 L489.26 47.83 L490.50 47.80 L491.74 47.69 L492.98 47.69 L494.21 47.56 L495.45 47.53 L496.69 47.34 L497.93 47.35 L499.16 47.17 L500.40 47.14 L501.64 47.13 L502.88 47.07 L504.11 46.91 L505.35 46.82 L506.59 46.76 L507.82 46.57 L509.06 46.51 L510.30 46.49 L511.54 46.37 L512.78 46.29 L514.01 46.23 L515.25 46.28 L516.49 46.27 L517.73 46.37 L518.96 46.30 L520.20 46.28 L521.44 46.15 L522.67 46.17 L523.91 46.09 L525.15 46.06 L526.39 46.10 L527.62 46.11 L528.86 45.93 L530.10 45.86 L531.34 45.85 L532.58 45.75 L533.81 45.69 L535.05 45.61 L536.29 45.61 L537.53 45.52 L538.76 45.45 L540.00 45.51 L541.24 45.52 L542.48 45.42 L543.71 45.31 L544.95 45.36 L546.19 45.07 L547.42 44.99 L548.66 45.00 L549.90 44.98 L551.14 44.80 L552.38 44.88 L553.61 44.87 L554.85 44.79 L556.09 44.79 L557.33 44.75 L558.56 44.74 L559.80 44.67 L561.04 44.60 L562.28 44.48 L563.51 44.43 L564.75 44.36 L565.99 44.38 L567.23 44.33 L568.46 44.32 L569.70 44.32 L570.94 44.26" stroke="#d62728" stroke-dasharray="5.55 2.4" stroke-dashoffset="4.7"/>
<path d="M94.50 414.60 L95.74 375.34 L96.97 345.64 L98.21 321.60 L99.45 301.29 L100.69 283.61 L101.92 267.93 L103.16 253.98 L104.40 241.66 L105.64 230.82 L106.88 221.30 L108.11 212.93 L109.35 205.49 L110.59 198.83 L111.83 192.82 L113.06 187.35 L114.30 182.35 L115.54 177.76 L116.78 173.53 L118.01 169.60 L119.25 165.94 L120.49 162.54 L121.72 159.37 L122.96 156.42 L124.20 153.68 L125.44 151.21 L126.68 148.81 L127.91 146.37 L129.15 144.39 L130.39 142.67 L131.62 140.78 L132.86 139.26 L134.10 137.94 L135.34 136.51 L136.57 135.10 L137.81 133.82 L139.05 132.45 L140.29 131.49 L141.53 130.49 L142.76 129.78 L144.00 128.90 L145.24 128.21 L146.47 127.36 L147.71 126.67 L148.95 125.82 L150.19 125.15 L151.43 124.53 L152.66 123.94 L153.90 123.34 L155.14 122.78 L156.38 122.25 L157.61 121.77 L158.85 121.32 L160.09 120.88 L161.32 120.44 L162.56 120.06 L163.80 119.64 L165.04 119.22 L166.28 118.71 L167.51 118.36 L168.75 118.03 L169.99 117.57 L171.23 117.22 L172.46 116.93 L173.70 116.67 L174.94 116.35 L176.18 115.96 L177.41 115.61 L178.65 115.36 L179.89 114.98 L181.12 114.77 L182.36 114.76 L183.60 114.57 L184.84 114.29 L186.07 114.25 L187.31 113.79 L188.55 113.58 L189.79 113.39 L191.03 113.43 L192.26 113.17 L193.50 113.15 L194.74 112.88 L195.98 112.77 L197.21 112.54 L198.45 112.37 L199.69 112.10 L200.93 112.02 L202.16 111.70 L203.40 111.42 L204.64 111.07 L205.88 110.99 L207.11 110.85 L208.35 110.85 L209.59 110.65 L210.82 110.63 L212.06 110.52 L213.30 110.26 L214.54 110.06 L215.78 109.97 L217.01 109.92 L218.25 109.93 L219.49 110.00 L220.73 109.96 L221.96 109.80 L223.20 109.63 L224.44 109.46 L225.68 109.36 L226.91 109.23 L228.15 109.12 L229.39 108.97 L230.62 108.86 L231.86 108.71 L233.10 108.56 L234.34 108.60 L235.58 108.52 L236.81 108.39 L238.05 108.23 L239.29 108.25 L240.53 108.26 L241.76 108.14 L243.00 108.22 L244.24 108.29 L245.47 108.19 L246.71 108.01 L247.95 108.07 L249.19 107.84 L250.43 107.80 L251.66 107.82 L252.90 107.85 L254.14 107.73 L255.38 107.72 L256.61 107.60 L257.85 107.40 L259.09 107.27 L260.33 107.28 L261.56 107.31 L262.80 107.20 L264.04 107.24 L265.27 107.21 L266.51 107.20 L267.75 107.13 L268.99 107.11 L270.23 107.05 L271.46 106.97 L272.70 106.84 L273.94 106.77 L275.18 106.65 L276.41 106.67 L277.65 106.56 L278.89 106.65 L280.12 106.51 L281.36 106.43 L282.60 106.18 L283.84 106.19 L285.08 105.97 L286.31 105.95 L287.55 105.98 L288.79 106.03 L290.02 105.95 L291.26 105.95 L292.50 105.98 L293.74 105.93 L294.98 105.91 L296.21 105.83 L297.45 105.88 L298.69 105.88 L299.93 105.81 L301.16 105.82 L302.40 105.95 L303.64 105.85 L304.88 105.73 L306.11 105.67 L307.35 105.68 L308.59 105.61 L309.83 105.58 L311.06 105.57 L312.30 105.58 L313.54 105.44 L314.77 105.39 L316.01 105.44 L317.25 105.45 L318.49 105.34 L319.73 105.22 L320.96 105.13 L322.20 105.08 L323.44 105.06 L324.68 105.08 L325.91 105.26 L327.15 105.33 L328.39 105.20 L329.62 105.28 L330.86 105.27 L332.10 105.16 L333.34 104.90 L334.58 104.90 L335.81 104.68 L337.05 104.66 L338.29 104.47 L339.52 104.60 L340.76 104.53 L342.00 104.59 L343.24 104.71 L344.48 104.80 L345.71 104.76 L346.95 104.81 L348.19 104.81 L349.43 104.64 L350.66 104.60 L351.90 104.59 L353.14 104.32 L354.38 104.23 L355.61 104.13 L356.85 104.19 L358.09 104.02 L359.32 104.21 L360.56 104.23 L361.80 104.32 L363.04 104.23 L364.28 104.37 L365.51 104.40 L366.75 104.35 L367.99 104.36 L369.23 104.35 L370.46 104.30 L371.70 104.26 L372.94 104.21 L374.18 104.11 L375.41 104.08 L376.65 104.10 L377.89 104.18 L379.12 103.99 L380.36 103.92 L381.60 103.89 L382.84 103.75 L384.07 103.54 L385.31 103.69 L386.55 103.80 L387.79 103.84 L389.03 103.80 L390.26 103.69 L391.50 103.55 L392.74 103.49 L393.98 103.30 L395.21 103.13 L396.45 103.13 L397.69 103.14 L398.93 102.98 L400.16 103.15 L401.40 103.23 L402.64 103.18 L403.88 103.21 L405.11 103.27 L406.35 103.13 L407.59 103.15 L408.82 103.11 L410.06 103.07 L411.30 102.96 L412.54 102.90 L413.78 102.94 L415.01 103.06 L416.25 103.02 L417.49 103.03 L418.73 103.00 L419.96 102.75 L421.20 102.60 L422.44 102.68 L423.68 102.59 L424.91 102.56 L426.15 102.56 L427.39 102.54 L428.62 102.32 L429.86 102.28 L431.10 102.22 L432.34 102.48 L433.57 102.41 L434.81 102.34 L436.05 102.40 L437.29 102.29 L438.53 102.23 L439.76 102.27 L441.00 102.36 L442.24 102.23 L443.48 102.26 L444.71 102.17 L445.95 102.01 L447.19 102.12 L448.43 102.23 L449.66 102.32 L450.90 102.41 L452.14 102.62 L453.38 102.50 L454.61 102.29 L455.85 102.12 L457.09 101.95 L458.32 101.81 L459.56 101.99 L460.80 102.10 L462.04 102.09 L463.28 102.14 L464.51 102.09 L465.75 101.98 L466.99 101.99 L468.23 102.08 L469.46 101.96 L470.70 101.99 L471.94 101.77 L473.18 101.69 L474.41 101.69 L475.65 101.73 L476.89 101.83 L478.12 101.96 L479.36 102.15 L480.60 102.27 L481.84 102.19 L483.07 102.06 L484.31 101.97 L485.55 101.87 L486.79 101.70 L488.03 101.88 L489.26 101.86 L490.50 101.85 L491.74 101.70 L492.98 101.70 L494.21 101.54 L495.45 101.70 L496.69 101.65 L497.93 101.74 L499.16 101.80 L500.40 101.78 L501.64 101.55 L502.88 101.46 L504.11 101.47 L505.35 101.52 L506.59 101.56 L507.82 101.67 L509.06 101.85 L510.30 101.81 L511.54 101.71 L512.78 101.69 L514.01 101.63 L515.25 101.74 L516.49 101.76 L517.73 101.69 L518.96 101.73 L520.20 101.81 L521.44 101.65 L522.67 101.53 L523.91 101.74 L525.15 101.67 L526.39 101.67 L527.62 101.96 L528.86 102.10 L530.10 102.07 L531.34 101.96 L532.58 101.87 L533.81 101.77 L535.05 101.75 L536.29 101.76 L537.53 101.96 L538.76 102.04 L540.00 101.95 L541.24 102.02 L542.48 102.16 L543.71 102.32 L544.95 102.52 L546.19 102.51 L547.42 102.48 L548.66 102.29 L549.90 102.13 L551.14 102.10 L552.38 102.09 L553.61 102.08 L554.85 102.15 L556.09 102.18 L557.33 102.03 L558.56 102.19 L559.80 102.34 L561.04 102.31 L562.28 102.37 L563.51 102.60 L564.75 102.55 L565.99 102.55 L567.23 102.55 L568.46 102.47 L569.70 102.40 L570.94 102.41" stroke="#d62728" stroke-linecap="square"/>
<path d="M94.50 370.21 L95.74 342.58 L96.97 313.68 L98.21 289.74 L99.45 270.06 L100.69 253.68 L101.92 239.85 L103.16 227.84 L104.40 217.00 L105.64 206.92 L106.88 197.41 L108.11 188.58 L109.35 180.52 L110.59 173.24 L111.83 166.68 L113.06 160.74 L114.30 155.35 L115.54 150.44 L116.78 145.96 L118.01 141.87 L119.25 138.13 L120.49 134.70 L121.72 131.56 L122.96 128.66 L124.20 125.99 L125.44 123.31 L126.68 121.10 L127.91 118.96 L129.15 116.91 L130.39 115.11 L131.62 113.44 L132.86 111.75 L134.10 110.23 L135.34 108.87 L136.57 107.43 L137.81 106.06 L139.05 104.90 L140.29 103.75 L141.53 102.61 L142.76 101.61 L144.00 100.65 L145.24 99.61 L146.47 98.79 L147.71 97.95 L148.95 97.08 L150.19 96.34 L151.43 95.63 L152.66 94.69 L153.90 93.88 L155.14 93.13 L156.38 92.42 L157.61 91.82 L158.85 91.35 L160.09 90.80 L161.32 90.31 L162.56 89.79 L163.80 89.13 L165.04 88.49 L166.28 88.00 L167.51 87.48 L168.75 87.00 L169.99 86.48 L171.23 86.11 L172.46 85.69 L173.70 85.28 L174.94 84.85 L176.18 84.50 L177.41 84.01 L178.65 83.62 L179.89 83.19 L181.12 82.83 L182.36 82.45 L183.60 82.27 L184.84 81.85 L186.07 81.56 L187.31 81.16 L188.55 80.84 L189.79 80.37 L191.03 80.10 L192.26 79.72 L193.50 79.52 L194.74 79.28 L195.98 79.11 L197.21 78.90 L198.45 78.69 L199.69 78.29 L200.93 77.97 L202.16 77.64 L203.40 77.37 L204.64 77.10 L205.88 76.95 L207.11 76.64 L208.35 76.38 L209.59 76.04 L210.82 75.73 L212.06 75.46 L213.30 75.28 L214.54 75.15 L215.78 74.91 L217.01 74.68 L218.25 74.40 L219.49 74.16 L220.73 73.79 L221.96 73.61 L223.20 73.39 L224.44 73.22 L225.68 73.02 L226.91 72.82 L228.15 72.55 L229.39 72.36 L230.62 72.18 L231.86 72.06 L233.10 71.88 L234.34 71.76 L235.58 71.51 L236.81 71.17 L238.05 70.92 L239.29 70.64 L240.53 70.36 L241.76 70.24 L243.00 70.16 L244.24 69.89 L245.47 69.81 L246.71 69.74 L247.95 69.47 L249.19 69.30 L250.43 69.19 L251.66 68.94 L252.90 68.71 L254.14 68.56 L255.38 68.28 L256.61 68.01 L257.85 67.96 L259.09 67.75 L260.33 67.59 L261.56 67.48 L262.80 67.34 L264.04 67.00 L265.27 66.84 L266.51 66.69 L267.75 66.52 L268.99 66.48 L270.23 66.39 L271.46 66.27 L272.70 66.17 L273.94 66.11 L275.18 65.95 L276.41 65.87 L277.65 65.71 L278.89 65.51 L280.12 65.33 L281.36 65.13 L282.60 64.89 L283.84 64.79 L285.08 64.68 L286.31 64.39 L287.55 64.28 L288.79 64.18 L290.02 63.98 L291.26 63.80 L292.50 63.78 L293.74 63.54 L294.98 63.43 L296.21 63.30 L297.45 63.18 L298.69 62.96 L299.93 62.93 L301.16 62.87 L302.40 62.81 L303.64 62.69 L304.88 62.65 L306.11 62.48 L307.35 62.32 L308.59 62.13 L309.83 62.07 L311.06 61.99 L312.30 61.89 L313.54 61.77 L314.77 61.71 L316.01 61.55 L317.25 61.40 L318.49 61.26 L319.73 61.07 L320.96 60.85 L322.20 60.70 L323.44 60.58 L324.68 60.53 L325.91 60.50 L327.15 60.52 L328.39 60.39 L329.62 60.16 L330.86 60.00 L332.10 59.82 L333.34 59.74 L334.58 59.66 L335.81 59.66 L337.05 59.54 L338.29 59.49 L339.52 59.31 L340.76 59.24 L342.00 59.13 L343.24 58.93 L344.48 58.75 L345.71 58.68 L346.95 58.54 L348.19 58.42 L349.43 58.31 L350.66 58.33 L351.90 58.12 L353.14 57.97 L354.38 57.75 L355.61 57.66 L356.85 57.48 L358.09 57.49 L359.32 57.47 L360.56 57.51 L361.80 57.50 L363.04 57.43 L364.28 57.32 L365.51 57.14 L366.75 57.00 L367.99 56.92 L369.23 56.81 L370.46 56.68 L371.70 56.66 L372.94 56.45 L374.18 56.35 L375.41 56.26 L376.65 56.06 L377.89 55.94 L379.12 55.95 L380.36 55.89 L381.60 55.79 L382.84 55.86 L384.07 55.72 L385.31 55.55 L386.55 55.39 L387.79 55.26 L389.03 55.02 L390.26 54.90 L391.50 54.95 L392.74 54.91 L393.98 54.86 L395.21 54.76 L396.45 54.79 L397.69 54.69 L398.93 54.57 L400.16 54.47 L401.40 54.43 L402.64 54.31 L403.88 54.13 L405.11 54.06 L406.35 53.87 L407.59 53.77 L408.82 53.63 L410.06 53.66 L411.30 53.51 L412.54 53.58 L413.78 53.57 L415.01 53.47 L416.25 53.32 L417.49 53.30 L418.73 53.25 L419.96 53.05 L421.20 53.00 L422.44 52.87 L423.68 52.68 L424.91 52.43 L426.15 52.49 L427.39 52.56 L428.62 52.48 L429.86 52.53 L431.10 52.45 L432.34 52.23 L433.57 51.98 L434.81 51.93 L436.05 51.83 L437.29 51.81 L438.53 51.75 L439.76 51.65 L441.00 51.46 L442.24 51.32 L443.48 51.20 L444.71 51.02 L445.95 50.99 L447.19 51.05 L448.43 50.98 L449.66 50.99 L450.90 51.08 L452.14 50.93 L453.38 50.73 L454.61 50.58 L455.85 50.47 L457.09 50.34 L458.32 50.27 L459.56 50.30 L460.80 50.26 L462.04 50.18 L463.28 50.03 L464.51 49.93 L465.75 49.80 L466.99 49.77 L468.23 49.69 L469.46 49.62 L470.70 49.49 L471.94 49.44 L473.18 49.18 L474.41 49.10 L475.65 49.08 L476.89 49.08 L478.12 49.01 L479.36 49.06 L480.60 48.96 L481.84 48.89 L483.07 48.85 L484.31 48.72 L485.55 48.58 L486.79 48.41 L488.03 48.30 L489.26 48.29 L490.50 48.27 L491.74 48.34 L492.98 48.37 L494.21 48.35 L495.45 48.19 L496.69 48.11 L497.93 47.96 L499.16 47.92 L500.40 47.74 L501.64 47.78 L502.88 47.64 L504.11 47.52 L505.35 47.40 L506.59 47.40 L507.82 47.22 L509.06 47.23 L510.30 47.27 L511.54 47.20 L512.78 47.11 L514.01 47.02 L515.25 46.94 L516.49 46.77 L517.73 46.71 L518.96 46.59 L520.20 46.57 L521.44 46.61 L522.67 46.65 L523.91 46.60 L525.15 46.70 L526.39 46.61 L527.62 46.48 L528.86 46.36 L530.10 46.31 L531.34 46.22 L532.58 46.18 L533.81 46.02 L535.05 46.00 L536.29 45.97 L537.53 45.90 L538.76 45.83 L540.00 45.78 L541.24 45.73 L542.48 45.68 L543.71 45.55 L544.95 45.52 L546.19 45.43 L547.42 45.35 L548.66 45.30 L549.90 45.35 L551.14 45.33 L552.38 45.45 L553.61 45.38 L554.85 45.21 L556.09 45.18 L557.33 45.16 L558.56 45.08 L559.80 45.05 L561.04 45.13 L562.28 44.96 L563.51 44.78 L564.75 44.70 L565.99 44.66 L567.23 44.59 L568.46 44.55 L569.70 44.46 L570.94 44.42 L572.17 44.38 L573.41 44.35 L574.65 44.31 L575.89 44.33 L577.12 44.27 L578.36 44.21 L579.60 43.99 L580.84 43.86 L582.08 43.88 L583.31 43.79 L584.55 43.75 L585.79 43.79 L587.03 43.90 L588.26 43.78 L589.50 43.68 L590.74 43.55 L591.98 43.60 L593.21 43.41 L594.45 43.44 L595.69 43.51 L596.92 43.47 L598.16 43.31 L599.40 43.35 L600.64 43.22 L601.88 43.07 L603.11 43.06 L604.35 43.12 L605.59 43.09 L606.83 43.09 L608.06 43.03 L609.30 42.92 L610.54 42.84 L611.77 42.81 L613.01 42.81 L614.25 42.78 L615.49 42.85 L616.73 42.70 L617.96 42.62 L619.20 42.53 L620.44 42.50 L621.68 42.43 L622.91 42.54 L624.15 42.51 L625.39 42.45 L626.62 42.47 L627.86 42.45 L629.10 42.37 L630.34 42.43 L631.58 42.45 L632.81 42.39 L634.05 42.40 L635.29 42.34 L636.52 42.18 L637.76 42.22 L639.00 42.20 L640.24 42.09 L641.48 42.09 L642.71 42.06 L643.95 41.89 L645.19 41.90 L646.43 41.87 L647.66 41.87 L648.90 41.97 L650.14 41.95 L651.38 41.88 L652.61 41.86 L653.85 41.75 L655.09 41.61 L656.33 41.61" stroke="#9467bd" stroke-dasharray="5.55 2.4" stroke-dashoffset="4.3"/>
<path d="M94.50 368.66 L95.74 336.35 L96.97 307.34 L98.21 283.64 L99.45 264.01 L100.69 247.42 L101.92 233.15 L103.16 220.71 L104.40 209.75 L105.64 200.05 L106.88 191.42 L108.11 183.69 L109.35 176.75 L110.59 170.50 L111.83 164.85 L113.06 159.73 L114.30 155.08 L115.54 150.85 L116.78 146.99 L118.01 143.47 L119.25 140.23 L120.49 137.24 L121.72 134.48 L122.96 131.92 L124.20 129.55 L125.44 127.17 L126.68 124.94 L127.91 123.08 L129.15 121.42 L130.39 119.82 L131.62 118.29 L132.86 116.93 L134.10 115.60 L135.34 114.18 L136.57 112.93 L137.81 111.67 L139.05 110.50 L140.29 109.37 L141.53 108.28 L142.76 107.15 L144.00 106.25 L145.24 105.36 L146.47 104.50 L147.71 103.63 L148.95 103.03 L150.19 102.24 L151.43 101.35 L152.66 100.57 L153.90 100.18 L155.14 99.40 L156.38 98.80 L157.61 98.24 L158.85 97.76 L160.09 97.02 L161.32 96.70 L162.56 96.23 L163.80 95.77 L165.04 95.14 L166.28 94.77 L167.51 94.24 L168.75 93.84 L169.99 93.60 L171.23 93.32 L172.46 92.94 L173.70 92.65 L174.94 92.35 L176.18 91.94 L177.41 91.71 L178.65 91.34 L179.89 90.86 L181.12 90.59 L182.36 90.32 L183.60 89.95 L184.84 89.89 L186.07 89.65 L187.31 89.31 L188.55 89.18 L189.79 88.97 L191.03 88.66 L192.26 88.44 L193.50 88.32 L194.74 87.97 L195.98 87.74 L197.21 87.63 L198.45 87.47 L199.69 87.29 L200.93 87.13 L202.16 86.85 L203.40 86.51 L204.64 86.43 L205.88 86.24 L207.11 86.16 L208.35 86.08 L209.59 85.87 L210.82 85.90 L212.06 85.82 L213.30 85.68 L214.54 85.54 L215.78 85.51 L217.01 85.08 L218.25 84.80 L219.49 84.73 L220.73 84.70 L221.96 84.57 L223.20 84.65 L224.44 84.69 L225.68 84.60 L226.91 84.47 L228.15 84.42 L229.39 84.16 L230.62 83.94 L231.86 83.70 L233.10 83.57 L234.34 83.45 L235.58 83.28 L236.81 83.19 L238.05 83.13 L239.29 83.15 L240.53 83.06 L241.76 83.16 L243.00 83.06 L244.24 83.00 L245.47 82.98 L246.71 82.97 L247.95 82.97 L249.19 83.03 L250.43 82.91 L251.66 82.69 L252.90 82.55 L254.14 82.33 L255.38 82.12 L256.61 82.04 L257.85 82.00 L259.09 82.07 L260.33 82.08 L261.56 82.14 L262.80 82.00 L264.04 82.02 L265.27 81.83 L266.51 81.83 L267.75 81.92 L268.99 81.94 L270.23 81.93 L271.46 81.88 L272.70 81.81 L273.94 81.81 L275.18 81.80 L276.41 81.73 L277.65 81.92 L278.89 81.74 L280.12 81.33 L281.36 81.35 L282.60 81.24 L283.84 80.97 L285.08 81.07 L286.31 81.16 L287.55 81.17 L288.79 81.15 L290.02 80.92 L291.26 80.71 L292.50 80.65 L293.74 80.41 L294.98 80.29 L296.21 80.44 L297.45 80.47 L298.69 80.56 L299.93 80.75 L301.16 80.72 L302.40 80.72 L303.64 80.65 L304.88 80.44 L306.11 80.25 L307.35 80.22 L308.59 80.17 L309.83 80.21 L311.06 80.29 L312.30 80.30 L313.54 80.25 L314.77 80.22 L316.01 80.05 L317.25 80.01 L318.49 79.91 L319.73 79.85 L320.96 79.76 L322.20 79.76 L323.44 79.76 L324.68 79.67 L325.91 79.60 L327.15 79.50 L328.39 79.54 L329.62 79.34 L330.86 79.46 L332.10 79.51 L333.34 79.52 L334.58 79.37 L335.81 79.51 L337.05 79.42 L338.29 79.44 L339.52 79.55 L340.76 79.73 L342.00 79.59 L343.24 79.52 L344.48 79.48 L345.71 79.28 L346.95 79.12 L348.19 79.21 L349.43 79.29 L350.66 79.21 L351.90 79.35 L353.14 79.31 L354.38 79.19 L355.61 78.94 L356.85 78.81 L358.09 78.69 L359.32 78.69 L360.56 78.55 L361.80 78.65 L363.04 78.88 L364.28 78.93 L365.51 78.92 L366.75 79.12 L367.99 79.19 L369.23 79.06 L370.46 78.98 L371.70 78.92 L372.94 78.71 L374.18 78.64 L375.41 78.59 L376.65 78.61 L377.89 78.60 L379.12 78.79 L380.36 78.72 L381.60 78.63 L382.84 78.52 L384.07 78.56 L385.31 78.41 L386.55 78.40 L387.79 78.55 L389.03 78.52 L390.26 78.30 L391.50 78.20 L392.74 78.13 L393.98 78.03 L395.21 77.96 L396.45 78.18 L397.69 78.09 L398.93 78.01 L400.16 77.99 L401.40 77.98 L402.64 77.93 L403.88 78.16 L405.11 78.28 L406.35 78.20 L407.59 78.18 L408.82 78.09 L410.06 78.02 L411.30 77.89 L412.54 77.73 L413.78 77.75 L415.01 77.74 L416.25 77.70 L417.49 77.75 L418.73 78.04 L419.96 77.94 L421.20 78.00 L422.44 78.06 L423.68 78.03 L424.91 77.79 L426.15 77.83 L427.39 77.87 L428.62 77.72 L429.86 77.64 L431.10 77.76 L432.34 77.66 L433.57 77.48 L434.81 77.42 L436.05 77.38 L437.29 77.35 L438.53 77.43 L439.76 77.41 L441.00 77.43 L442.24 77.57 L443.48 77.55 L444.71 77.48 L445.95 77.41 L447.19 77.58 L448.43 77.50 L449.66 77.34 L450.90 77.22 L452.14 77.37 L453.38 77.29 L454.61 77.32 L455.85 77.39 L457.09 77.52 L458.32 77.44 L459.56 77.41 L460.80 77.41 L462.04 77.43 L463.28 77.39 L464.51 77.22 L465.75 77.12 L466.99 77.04 L468.23 77.05 L469.46 77.08 L470.70 77.38 L471.94 77.40 L473.18 77.36 L474.41 77.33 L475.65 77.35 L476.89 77.17 L478.12 77.18 L479.36 77.21 L480.60 77.11 L481.84 77.04 L483.07 77.04 L484.31 77.01 L485.55 77.09 L486.79 77.17 L488.03 77.13 L489.26 77.08 L490.50 77.13 L491.74 77.02 L492.98 77.12 L494.21 77.17 L495.45 77.26 L496.69 77.25 L497.93 77.27 L499.16 77.09 L500.40 77.21 L501.64 77.25 L502.88 77.27 L504.11 77.24 L505.35 77.20 L506.59 77.00 L507.82 76.92 L509.06 76.79 L510.30 76.77 L511.54 76.89 L512.78 77.00 L514.01 76.88 L515.25 76.94 L516.49 76.94 L517.73 76.93 L518.96 76.89 L520.20 77.00 L521.44 76.92 L522.67 76.96 L523.91 76.76 L525.15 76.72 L526.39 76.66 L527.62 76.78 L528.86 76.73 L530.10 76.85 L531.34 76.76 L532.58 76.76 L533.81 76.76 L535.05 76.81 L536.29 77.01 L537.53 77.01 L538.76 76.99 L540.00 76.82 L541.24 76.83 L542.48 76.46 L543.71 76.33 L544.95 76.25 L546.19 76.48 L547.42 76.37 L548.66 76.47 L549.90 76.66 L551.14 76.81 L552.38 76.64 L553.61 76.70 L554.85 76.91 L556.09 77.00 L557.33 77.02 L558.56 77.12 L559.80 77.12 L561.04 76.88 L562.28 76.76 L563.51 76.59 L564.75 76.49 L565.99 76.65 L567.23 76.64 L568.46 76.63 L569.70 76.60 L570.94 76.69 L572.17 76.55 L573.41 76.59 L574.65 76.61 L575.89 76.70 L577.12 76.62 L578.36 76.67 L579.60 76.72 L580.84 76.66 L582.08 76.56 L583.31 76.52 L584.55 76.45 L585.79 76.41 L587.03 76.51 L588.26 76.52 L589.50 76.48 L590.74 76.42 L591.98 76.47 L593.21 76.48 L594.45 76.44 L595.69 76.49 L596.92 76.53 L598.16 76.26 L599.40 76.27 L600.64 76.49 L601.88 76.44 L603.11 76.44 L604.35 76.56 L605.59 76.53 L606.83 76.38 L608.06 76.36 L609.30 76.34 L610.54 76.55 L611.77 76.52 L613.01 76.55 L614.25 76.58 L615.49 76.59 L616.73 76.68 L617.96 76.61 L619.20 76.59 L620.44 76.53 L621.68 76.60 L622.91 76.37 L624.15 76.40 L625.39 76.45 L626.62 76.49 L627.86 76.49 L629.10 76.42 L630.34 76.34 L631.58 76.27 L632.81 76.27 L634.05 76.34 L635.29 76.45 L636.52 76.55 L637.76 76.62 L639.00 76.64 L640.24 76.55 L641.48 76.52 L642.71 76.49 L643.95 76.48 L645.19 76.48 L646.43 76.37 L647.66 76.49 L648.90 76.67 L650.14 76.69 L651.38 76.72 L652.61 76.88 L653.85 76.69 L655.09 76.58 L656.33 76.56" stroke="#9467bd" stroke-linecap="square"/>
<path d="M94.50 369.59 L95.74 341.96 L96.97 313.06 L98.21 289.12 L99.45 269.44 L100.69 253.06 L101.92 239.23 L103.16 227.22 L104.40 216.37 L105.64 206.29 L106.88 196.79 L108.11 187.95 L109.35 179.89 L110.59 172.61 L111.83 166.05 L113.06 160.11 L114.30 154.71 L115.54 149.80 L116.78 145.32 L118.01 141.23 L119.25 137.49 L120.49 134.06 L121.72 130.91 L122.96 128.02 L124.20 125.35 L125.44 122.86 L126.68 120.56 L127.91 118.36 L129.15 116.44 L130.39 114.57 L131.62 112.80 L132.86 111.16 L134.10 109.61 L135.34 108.12 L136.57 106.72 L137.81 105.46 L139.05 104.30 L140.29 103.13 L141.53 101.96 L142.76 100.95 L144.00 99.95 L145.24 98.98 L146.47 97.97 L147.71 97.19 L148.95 96.38 L150.19 95.56 L151.43 94.74 L152.66 94.12 L153.90 93.42 L155.14 92.79 L156.38 92.14 L157.61 91.48 L158.85 90.72 L160.09 90.12 L161.32 89.45 L162.56 88.86 L163.80 88.34 L165.04 88.01 L166.28 87.46 L167.51 87.07 L168.75 86.59 L169.99 86.08 L171.23 85.62 L172.46 85.12 L173.70 84.65 L174.94 84.24 L176.18 83.83 L177.41 83.39 L178.65 83.00 L179.89 82.53 L181.12 82.15 L182.36 81.75 L183.60 81.27 L184.84 80.94 L186.07 80.68 L187.31 80.29 L188.55 80.00 L189.79 79.77 L191.03 79.56 L192.26 79.23 L193.50 79.02 L194.74 78.71 L195.98 78.51 L197.21 78.20 L198.45 77.85 L199.69 77.44 L200.93 77.15 L202.16 76.76 L203.40 76.54 L204.64 76.32 L205.88 76.18 L207.11 76.05 L208.35 75.86 L209.59 75.54 L210.82 75.28 L212.06 74.99 L213.30 74.52 L214.54 74.15 L215.78 73.85 L217.01 73.62 L218.25 73.45 L219.49 73.29 L220.73 73.15 L221.96 72.92 L223.20 72.70 L224.44 72.42 L225.68 72.26 L226.91 71.99 L228.15 71.74 L229.39 71.67 L230.62 71.49 L231.86 71.28 L233.10 71.14 L234.34 70.96 L235.58 70.59 L236.81 70.36 L238.05 70.16 L239.29 69.88 L240.53 69.67 L241.76 69.51 L243.00 69.22 L244.24 68.97 L245.47 68.88 L246.71 68.65 L247.95 68.51 L249.19 68.42 L250.43 68.39 L251.66 68.11 L252.90 68.09 L254.14 67.86 L255.38 67.60 L256.61 67.30 L257.85 67.19 L259.09 66.98 L260.33 66.86 L261.56 66.75 L262.80 66.74 L264.04 66.64 L265.27 66.37 L266.51 66.22 L267.75 66.05 L268.99 65.74 L270.23 65.58 L271.46 65.50 L272.70 65.25 L273.94 65.17 L275.18 65.05 L276.41 64.83 L277.65 64.70 L278.89 64.63 L280.12 64.44 L281.36 64.30 L282.60 64.19 L283.84 63.98 L285.08 63.73 L286.31 63.61 L287.55 63.49 L288.79 63.19 L290.02 63.03 L291.26 63.08 L292.50 62.96 L293.74 62.87 L294.98 62.85 L296.21 62.82 L297.45 62.61 L298.69 62.37 L299.93 62.18 L301.16 62.09 L302.40 61.88 L303.64 61.67 L304.88 61.57 L306.11 61.34 L307.35 61.24 L308.59 61.11 L309.83 61.12 L311.06 61.05 L312.30 61.02 L313.54 60.77 L314.77 60.66 L316.01 60.47 L317.25 60.37 L318.49 60.28 L319.73 60.28 L320.96 60.21 L322.20 60.08 L323.44 59.97 L324.68 59.81 L325.91 59.61 L327.15 59.52 L328.39 59.44 L329.62 59.37 L330.86 59.15 L332.10 59.00 L333.34 58.81 L334.58 58.65 L335.81 58.52 L337.05 58.46 L338.29 58.43 L339.52 58.33 L340.76 58.21 L342.00 58.20 L343.24 58.23 L344.48 58.15 L345.71 58.04 L346.95 57.99 L348.19 57.73 L349.43 57.55 L350.66 57.48 L351.90 57.37 L353.14 57.27 L354.38 57.24 L355.61 57.03 L356.85 56.80 L358.09 56.71 L359.32 56.49 L360.56 56.36 L361.80 56.36 L363.04 56.31 L364.28 56.20 L365.51 56.13 L366.75 56.06 L367.99 55.90 L369.23 55.87 L370.46 55.80 L371.70 55.59 L372.94 55.38 L374.18 55.35 L375.41 55.18 L376.65 55.12 L377.89 55.19 L379.12 55.19 L380.36 55.09 L381.60 55.01 L382.84 54.84 L384.07 54.61 L385.31 54.45 L386.55 54.32 L387.79 54.28 L389.03 54.16 L390.26 54.17 L391.50 54.02 L392.74 53.94 L393.98 53.71 L395.21 53.71 L396.45 53.64 L397.69 53.64 L398.93 53.57 L400.16 53.55 L401.40 53.43 L402.64 53.42 L403.88 53.39 L405.11 53.33 L406.35 53.24 L407.59 53.18 L408.82 52.97 L410.06 52.79 L411.30 52.66 L412.54 52.70 L413.78 52.50 L415.01 52.42 L416.25 52.39 L417.49 52.30 L418.73 52.13 L419.96 52.13 L421.20 52.11 L422.44 51.89 L423.68 51.83 L424.91 51.70 L426.15 51.65 L427.39 51.49 L428.62 51.44 L429.86 51.33 L431.10 51.30 L432.34 51.17 L433.57 51.14 L434.81 51.09 L436.05 51.00 L437.29 50.87 L438.53 50.81 L439.76 50.74 L441.00 50.70 L442.24 50.58 L443.48 50.52 L444.71 50.41 L445.95 50.35 L447.19 50.30 L448.43 50.35 L449.66 50.29 L450.90 50.28 L452.14 50.30 L453.38 50.27 L454.61 50.22 L455.85 50.15 L457.09 50.08 L458.32 49.84 L459.56 49.72 L460.80 49.60 L462.04 49.54 L463.28 49.47 L464.51 49.49 L465.75 49.40 L466.99 49.33 L468.23 49.22 L469.46 49.08 L470.70 49.01 L471.94 48.97 L473.18 48.79 L474.41 48.71 L475.65 48.70 L476.89 48.58 L478.12 48.52 L479.36 48.58 L480.60 48.50 L481.84 48.46 L483.07 48.46 L484.31 48.39 L485.55 48.25 L486.79 48.20 L488.03 48.12 L489.26 48.02 L490.50 47.97 L491.74 47.91 L492.98 47.87 L494.21 47.81 L495.45 47.70 L496.69 47.69 L497.93 47.69 L499.16 47.74 L500.40 47.59 L501.64 47.58 L502.88 47.43 L504.11 47.22 L505.35 47.05 L506.59 47.03 L507.82 46.99 L509.06 46.94 L510.30 47.04 L511.54 46.97 L512.78 46.90 L514.01 46.81 L515.25 46.77 L516.49 46.71 L517.73 46.68 L518.96 46.66 L520.20 46.59 L521.44 46.57 L522.67 46.50 L523.91 46.44" stroke="#8c564b" stroke-dasharray="5.55 2.4" stroke-dashoffset="4.6"/>
<path d="M94.50 374.84 L95.74 340.09 L96.97 310.08 L98.21 285.98 L99.45 266.27 L100.69 249.78 L101.92 235.73 L103.16 223.58 L104.40 212.95 L105.64 203.55 L106.88 195.17 L108.11 187.65 L109.35 180.86 L110.59 174.70 L111.83 169.08 L113.06 163.94 L114.30 159.22 L115.54 154.88 L116.78 150.87 L118.01 147.15 L119.25 143.71 L120.49 140.51 L121.72 137.53 L122.96 134.76 L124.20 132.17 L125.44 129.99 L126.68 127.80 L127.91 125.68 L129.15 123.57 L130.39 121.71 L131.62 119.96 L132.86 118.25 L134.10 116.74 L135.34 115.31 L136.57 113.89 L137.81 112.45 L139.05 111.30 L140.29 110.31 L141.53 109.12 L142.76 108.04 L144.00 107.24 L145.24 106.47 L146.47 105.48 L147.71 105.01 L148.95 104.28 L150.19 103.64 L151.43 102.93 L152.66 102.26 L153.90 101.43 L155.14 100.98 L156.38 100.50 L157.61 99.95 L158.85 99.62 L160.09 99.19 L161.32 98.80 L162.56 98.26 L163.80 97.97 L165.04 97.44 L166.28 97.22 L167.51 96.86 L168.75 96.71 L169.99 96.39 L171.23 96.21 L172.46 95.90 L173.70 95.56 L174.94 95.20 L176.18 94.92 L177.41 94.78 L178.65 94.55 L179.89 94.44 L181.12 94.31 L182.36 94.31 L183.60 94.22 L184.84 94.02 L186.07 93.93 L187.31 93.76 L188.55 93.49 L189.79 93.19 L191.03 93.11 L192.26 93.00 L193.50 92.85 L194.74 92.69 L195.98 92.66 L197.21 92.58 L198.45 92.32 L199.69 92.38 L200.93 92.36 L202.16 92.26 L203.40 92.15 L204.64 92.14 L205.88 91.93 L207.11 91.90 L208.35 91.86 L209.59 91.74 L210.82 91.65 L212.06 91.62 L213.30 91.54 L214.54 91.40 L215.78 91.36 L217.01 91.25 L218.25 91.18 L219.49 91.04 L220.73 90.88 L221.96 90.66 L223.20 90.69 L224.44 90.61 L225.68 90.46 L226.91 90.67 L228.15 90.71 L229.39 90.63 L230.62 90.55 L231.86 90.68 L233.10 90.47 L234.34 90.55 L235.58 90.64 L236.81 90.58 L238.05 90.43 L239.29 90.46 L240.53 90.33 L241.76 90.34 L243.00 90.34 L244.24 90.25 L245.47 90.13 L246.71 90.14 L247.95 90.02 L249.19 90.07 L250.43 90.25 L251.66 90.33 L252.90 90.26 L254.14 90.15 L255.38 90.13 L256.61 90.00 L257.85 89.77 L259.09 89.72 L260.33 89.67 L261.56 89.54 L262.80 89.54 L264.04 89.69 L265.27 89.79 L266.51 89.64 L267.75 89.66 L268.99 89.70 L270.23 89.64 L271.46 89.42 L272.70 89.65 L273.94 89.73 L275.18 89.72 L276.41 89.67 L277.65 89.72 L278.89 89.49 L280.12 89.38 L281.36 89.28 L282.60 89.29 L283.84 89.28 L285.08 89.30 L286.31 89.26 L287.55 89.33 L288.79 89.33 L290.02 89.40 L291.26 89.44 L292.50 89.35 L293.74 89.23 L294.98 89.10 L296.21 88.92 L297.45 88.96 L298.69 89.08 L299.93 88.89 L301.16 88.92 L302.40 88.82 L303.64 88.75 L304.88 88.70 L306.11 88.79 L307.35 88.85 L308.59 89.02 L309.83 89.02 L311.06 88.82 L312.30 88.87 L313.54 88.65 L314.77 88.63 L316.01 88.61 L317.25 88.65 L318.49 88.47 L319.73 88.64 L320.96 88.59 L322.20 88.56 L323.44 88.51 L324.68 88.66 L325.91 88.61 L327.15 88.38 L328.39 88.20 L329.62 88.22 L330.86 88.13 L332.10 88.09 L333.34 88.29 L334.58 88.49 L335.81 88.55 L337.05 88.48 L338.29 88.41 L339.52 88.23 L340.76 88.14 L342.00 88.16 L343.24 88.16 L344.48 88.11 L345.71 88.37 L346.95 88.36 L348.19 88.20 L349.43 88.25 L350.66 88.48 L351.90 88.24 L353.14 88.40 L354.38 88.50 L355.61 88.39 L356.85 88.29 L358.09 88.21 L359.32 87.97 L360.56 87.92 L361.80 88.10 L363.04 87.95 L364.28 88.07 L365.51 87.98 L366.75 88.06 L367.99 87.81 L369.23 87.81 L370.46 87.83 L371.70 87.87 L372.94 87.74 L374.18 87.93 L375.41 87.93 L376.65 87.71 L377.89 87.91 L379.12 87.86 L380.36 87.72 L381.60 87.73 L382.84 87.76 L384.07 87.58 L385.31 87.50 L386.55 87.50 L387.79 87.42 L389.03 87.46 L390.26 87.48 L391.50 87.59 L392.74 87.58 L393.98 87.57 L395.21 87.64 L396.45 87.66 L397.69 87.55 L398.93 87.49 L400.16 87.64 L401.40 87.64 L402.64 87.59 L403.88 87.62 L405.11 87.76 L406.35 87.82 L407.59 87.75 L408.82 87.78 L410.06 87.83 L411.30 87.76 L412.54 87.58 L413.78 87.62 L415.01 87.67 L416.25 87.63 L417.49 87.66 L418.73 87.59 L419.96 87.60 L421.20 87.54 L422.44 87.62 L423.68 87.62 L424.91 87.66 L426.15 87.60 L427.39 87.49 L428.62 87.42 L429.86 87.29 L431.10 87.37 L432.34 87.29 L433.57 87.30 L434.81 87.24 L436.05 87.41 L437.29 87.15 L438.53 87.31 L439.76 87.36 L441.00 87.34 L442.24 87.31 L443.48 87.42 L444.71 87.27 L445.95 87.19 L447.19 87.32 L448.43 87.10 L449.66 87.02 L450.90 87.00 L452.14 86.92 L453.38 86.79 L454.61 86.83 L455.85 87.18 L457.09 87.23 L458.32 87.25 L459.56 87.33 L460.80 87.20 L462.04 87.04 L463.28 87.12 L464.51 87.17 L465.75 87.15 L466.99 87.32 L468.23 87.26 L469.46 87.19 L470.70 87.09 L471.94 87.15 L473.18 87.00 L474.41 86.99 L475.65 86.99 L476.89 87.23 L478.12 87.00 L479.36 87.15 L480.60 87.14 L481.84 87.14 L483.07 86.86 L484.31 86.92 L485.55 86.88 L486.79 86.91 L488.03 86.94 L489.26 87.11 L490.50 87.07 L491.74 87.11 L492.98 86.93 L494.21 86.88 L495.45 86.81 L496.69 86.91 L497.93 86.93 L499.16 87.01 L500.40 86.92 L501.64 86.97 L502.88 86.76 L504.11 86.74 L505.35 86.82 L506.59 86.85 L507.82 86.82 L509.06 86.85 L510.30 86.83 L511.54 86.92 L512.78 86.96 L514.01 86.83 L515.25 86.85 L516.49 86.93 L517.73 86.77 L518.96 86.75 L520.20 86.81 L521.44 86.82 L522.67 86.65 L523.91 86.64" stroke="#8c564b" stroke-linecap="square"/>
<path d="M94.50 369.59 L95.74 341.96 L96.97 313.06 L98.21 289.12 L99.45 269.44 L100.69 253.06 L101.92 239.23 L103.16 227.22 L104.40 216.37 L105.64 206.29 L106.88 196.79 L108.11 187.95 L109.35 179.89 L110.59 172.61 L111.83 166.05 L113.06 160.11 L114.30 154.71 L115.54 149.80 L116.78 145.32 L118.01 141.23 L119.25 137.49 L120.49 134.06 L121.72 130.91 L122.96 128.02 L124.20 125.35 L125.44 122.82 L126.68 120.51 L127.91 118.34 L129.15 116.44 L130.39 114.62 L131.62 112.72 L132.86 111.09 L134.10 109.59 L135.34 108.19 L136.57 106.78 L137.81 105.63 L139.05 104.42 L140.29 103.28 L141.53 102.08 L142.76 100.98 L144.00 99.92 L145.24 99.00 L146.47 98.12 L147.71 97.21 L148.95 96.38 L150.19 95.66 L151.43 94.89 L152.66 94.13 L153.90 93.44 L155.14 92.73 L156.38 91.98 L157.61 91.24 L158.85 90.64 L160.09 89.96 L161.32 89.38 L162.56 88.87 L163.80 88.38 L165.04 87.76 L166.28 87.36 L167.51 86.92 L168.75 86.43 L169.99 85.89 L171.23 85.55 L172.46 85.04 L173.70 84.69 L174.94 84.33 L176.18 83.98 L177.41 83.46 L178.65 83.19 L179.89 82.66 L181.12 82.18 L182.36 81.85 L183.60 81.55 L184.84 81.15 L186.07 80.94 L187.31 80.54 L188.55 80.17 L189.79 79.89 L191.03 79.53 L192.26 79.10 L193.50 78.92 L194.74 78.64 L195.98 78.23 L197.21 77.98 L198.45 77.76 L199.69 77.38 L200.93 77.09 L202.16 76.88 L203.40 76.50 L204.64 76.29 L205.88 76.16 L207.11 75.89 L208.35 75.60 L209.59 75.41 L210.82 75.07 L212.06 74.80 L213.30 74.62 L214.54 74.40 L215.78 74.14 L217.01 73.83 L218.25 73.53 L219.49 73.21 L220.73 73.04 L221.96 72.86 L223.20 72.73 L224.44 72.46 L225.68 72.32 L226.91 71.99 L228.15 71.76 L229.39 71.53 L230.62 71.45 L231.86 71.21 L233.10 70.99 L234.34 70.83 L235.58 70.50 L236.81 70.25 L238.05 70.04 L239.29 69.86 L240.53 69.60 L241.76 69.57 L243.00 69.31 L244.24 69.12 L245.47 68.91 L246.71 68.71 L247.95 68.42 L249.19 68.39 L250.43 68.28 L251.66 68.20 L252.90 68.11 L254.14 67.94 L255.38 67.62 L256.61 67.50 L257.85 67.33 L259.09 67.14 L260.33 66.97 L261.56 66.87 L262.80 66.66 L264.04 66.42 L265.27 66.25 L266.51 66.15 L267.75 65.94 L268.99 65.83 L270.23 65.69 L271.46 65.55 L272.70 65.34 L273.94 65.20 L275.18 65.00 L276.41 64.85 L277.65 64.67 L278.89 64.46 L280.12 64.39 L281.36 64.19 L282.60 64.03 L283.84 63.95 L285.08 63.86 L286.31 63.74 L287.55 63.63 L288.79 63.49 L290.02 63.19 L291.26 63.13 L292.50 62.90 L293.74 62.75 L294.98 62.63 L296.21 62.62 L297.45 62.37 L298.69 62.30 L299.93 62.14 L301.16 62.01 L302.40 61.83 L303.64 61.73 L304.88 61.65 L306.11 61.60 L307.35 61.47 L308.59 61.37 L309.83 61.35 L311.06 61.13 L312.30 60.92 L313.54 60.79 L314.77 60.66 L316.01 60.53 L317.25 60.38 L318.49 60.22 L319.73 59.96 L320.96 59.84 L322.20 59.56 L323.44 59.53 L324.68 59.48 L325.91 59.49 L327.15 59.46 L328.39 59.47 L329.62 59.33 L330.86 59.23 L332.10 59.15 L333.34 58.96 L334.58 58.78 L335.81 58.61 L337.05 58.61 L338.29 58.50 L339.52 58.39 L340.76 58.44 L342.00 58.36 L343.24 58.08 L344.48 58.01 L345.71 58.02 L346.95 57.82 L348.19 57.67 L349.43 57.50 L350.66 57.30 L351.90 57.08 L353.14 56.99 L354.38 56.92 L355.61 56.99 L356.85 56.90 L358.09 56.74 L359.32 56.59 L360.56 56.57 L361.80 56.41 L363.04 56.26 L364.28 56.15 L365.51 56.14 L366.75 55.97 L367.99 55.86 L369.23 55.84 L370.46 55.85 L371.70 55.71 L372.94 55.67 L374.18 55.50 L375.41 55.37 L376.65 55.23 L377.89 55.08 L379.12 54.87 L380.36 54.88 L381.60 54.76 L382.84 54.61 L384.07 54.56 L385.31 54.46 L386.55 54.35 L387.79 54.24 L389.03 54.11 L390.26 54.02 L391.50 54.04 L392.74 54.00 L393.98 53.85 L395.21 53.83 L396.45 53.74 L397.69 53.53 L398.93 53.45 L400.16 53.37 L401.40 53.32 L402.64 53.20 L403.88 53.18 L405.11 53.04 L406.35 53.00 L407.59 52.85 L408.82 52.84 L410.06 52.81 L411.30 52.74 L412.54 52.67 L413.78 52.64 L415.01 52.52 L416.25 52.48 L417.49 52.37 L418.73 52.31 L419.96 52.26 L421.20 52.17 L422.44 51.92 L423.68 51.90 L424.91 51.86 L426.15 51.70 L427.39 51.69 L428.62 51.70 L429.86 51.60 L431.10 51.53 L432.34 51.50 L433.57 51.35 L434.81 51.25 L436.05 51.17 L437.29 51.02 L438.53 50.88 L439.76 50.79 L441.00 50.73 L442.24 50.76 L443.48 50.67 L444.71 50.62 L445.95 50.53 L447.19 50.39 L448.43 50.24 L449.66 50.25 L450.90 50.15 L452.14 50.26 L453.38 50.20 L454.61 50.09 L455.85 50.05 L457.09 50.05 L458.32 49.76 L459.56 49.76 L460.80 49.67 L462.04 49.51 L463.28 49.40 L464.51 49.38 L465.75 49.28 L466.99 49.27 L468.23 49.22 L469.46 49.15" stroke="#e377c2" stroke-dasharray="5.55 2.4" stroke-dashoffset="4.5"/>
<path d="M94.50 374.83 L95.74 357.11 L96.97 328.92 L98.21 303.82 L99.45 282.53 L100.69 264.49 L101.92 249.08 L103.16 235.80 L104.40 224.28 L105.64 214.19 L106.88 205.24 L108.11 197.21 L109.35 189.93 L110.59 183.28 L111.83 177.16 L113.06 171.49 L114.30 166.22 L115.54 161.31 L116.78 156.77 L118.01 152.64 L119.25 148.93 L120.49 145.64 L121.72 142.77 L122.96 140.28 L124.20 138.12 L125.44 136.12 L126.68 134.57 L127.91 133.07 L129.15 131.63 L130.39 130.49 L131.62 129.45 L132.86 128.25 L134.10 127.15 L135.34 126.37 L136.57 125.51 L137.81 124.69 L139.05 124.16 L140.29 123.56 L141.53 122.78 L142.76 122.04 L144.00 121.32 L145.24 120.48 L146.47 119.76 L147.71 119.13 L148.95 118.56 L150.19 117.96 L151.43 117.37 L152.66 116.96 L153.90 116.56 L155.14 116.10 L156.38 115.73 L157.61 115.28 L158.85 114.80 L160.09 114.48 L161.32 114.18 L162.56 113.90 L163.80 113.60 L165.04 113.24 L166.28 112.81 L167.51 112.28 L168.75 111.81 L169.99 111.65 L171.23 111.33 L172.46 111.10 L173.70 111.06 L174.94 110.94 L176.18 110.54 L177.41 110.32 L178.65 110.13 L179.89 109.80 L181.12 109.45 L182.36 109.36 L183.60 109.22 L184.84 109.14 L186.07 108.99 L187.31 108.95 L188.55 108.70 L189.79 108.55 L191.03 108.15 L192.26 108.04 L193.50 107.85 L194.74 107.74 L195.98 107.51 L197.21 107.38 L198.45 107.14 L199.69 107.01 L200.93 106.80 L202.16 106.61 L203.40 106.53 L204.64 106.56 L205.88 106.25 L207.11 106.14 L208.35 106.06 L209.59 106.01 L210.82 105.78 L212.06 105.76 L213.30 105.78 L214.54 105.72 L215.78 105.54 L217.01 105.30 L218.25 105.17 L219.49 104.98 L220.73 104.86 L221.96 104.69 L223.20 104.68 L224.44 104.82 L225.68 104.75 L226.91 104.72 L228.15 104.69 L229.39 104.63 L230.62 104.40 L231.86 104.23 L233.10 104.11 L234.34 104.10 L235.58 104.04 L236.81 103.92 L238.05 104.02 L239.29 104.01 L240.53 104.03 L241.76 104.05 L243.00 104.09 L244.24 103.89 L245.47 103.73 L246.71 103.47 L247.95 103.27 L249.19 103.16 L250.43 103.24 L251.66 103.15 L252.90 103.22 L254.14 103.19 L255.38 103.23 L256.61 103.00 L257.85 103.25 L259.09 103.32 L260.33 103.35 L261.56 103.10 L262.80 103.14 L264.04 102.88 L265.27 102.71 L266.51 102.47 L267.75 102.41 L268.99 102.25 L270.23 102.25 L271.46 102.08 L272.70 102.14 L273.94 102.13 L275.18 102.18 L276.41 102.20 L277.65 102.28 L278.89 102.24 L280.12 102.28 L281.36 102.22 L282.60 102.02 L283.84 101.95 L285.08 101.92 L286.31 101.88 L287.55 101.79 L288.79 101.66 L290.02 101.57 L291.26 101.66 L292.50 101.57 L293.74 101.62 L294.98 101.77 L296.21 101.85 L297.45 101.63 L298.69 101.75 L299.93 101.78 L301.16 101.66 L302.40 101.54 L303.64 101.52 L304.88 101.37 L306.11 101.32 L307.35 101.36 L308.59 101.30 L309.83 101.30 L311.06 101.23 L312.30 101.13 L313.54 101.10 L314.77 101.03 L316.01 100.91 L317.25 100.74 L318.49 100.75 L319.73 100.74 L320.96 100.73 L322.20 100.74 L323.44 100.75 L324.68 100.50 L325.91 100.40 L327.15 100.38 L328.39 100.39 L329.62 100.52 L330.86 100.55 L332.10 100.48 L333.34 100.40 L334.58 100.19 L335.81 100.00 L337.05 100.13 L338.29 100.14 L339.52 100.12 L340.76 100.24 L342.00 100.21 L343.24 100.05 L344.48 100.10 L345.71 100.13 L346.95 100.15 L348.19 100.19 L349.43 100.27 L350.66 100.24 L351.90 99.96 L353.14 99.90 L354.38 99.99 L355.61 99.83 L356.85 99.73 L358.09 99.87 L359.32 99.92 L360.56 99.90 L361.80 99.80 L363.04 99.83 L364.28 100.08 L365.51 100.02 L366.75 99.80 L367.99 99.81 L369.23 99.80 L370.46 99.64 L371.70 99.52 L372.94 99.69 L374.18 99.80 L375.41 99.70 L376.65 99.58 L377.89 99.67 L379.12 99.53 L380.36 99.41 L381.60 99.50 L382.84 99.55 L384.07 99.38 L385.31 99.50 L386.55 99.58 L387.79 99.44 L389.03 99.39 L390.26 99.42 L391.50 99.29 L392.74 99.29 L393.98 99.21 L395.21 99.10 L396.45 99.09 L397.69 99.20 L398.93 99.21 L400.16 99.19 L401.40 99.22 L402.64 99.23 L403.88 99.10 L405.11 98.95 L406.35 99.02 L407.59 99.04 L408.82 98.90 L410.06 98.84 L411.30 98.77 L412.54 98.97 L413.78 98.98 L415.01 98.93 L416.25 99.00 L417.49 99.10 L418.73 98.98 L419.96 98.97 L421.20 99.17 L422.44 99.26 L423.68 99.21 L424.91 99.03 L426.15 98.87 L427.39 98.81 L428.62 98.66 L429.86 98.63 L431.10 98.79 L432.34 98.80 L433.57 98.93 L434.81 98.92 L436.05 98.99 L437.29 98.92 L438.53 99.16 L439.76 99.13 L441.00 99.12 L442.24 99.25 L443.48 99.16 L444.71 98.96 L445.95 98.84 L447.19 99.02 L448.43 98.86 L449.66 99.01 L450.90 99.15 L452.14 99.26 L453.38 99.14 L454.61 99.12 L455.85 99.17 L457.09 98.97 L458.32 98.96 L459.56 99.09 L460.80 99.07 L462.04 99.17 L463.28 99.54 L464.51 99.64 L465.75 99.54 L466.99 99.74 L468.23 99.65 L469.46 99.54" stroke="#e377c2" stroke-linecap="square"/>
<path d="M94.50 369.90 L95.74 342.27 L96.97 313.37 L98.21 289.43 L99.45 269.75 L100.69 253.36 L101.92 239.53 L103.16 227.53 L104.40 216.68 L105.64 206.60 L106.88 197.09 L108.11 188.26 L109.35 180.20 L110.59 172.92 L111.83 166.36 L113.06 160.41 L114.30 155.02 L115.54 150.11 L116.78 145.63 L118.01 141.54 L119.25 137.80 L120.49 134.37 L121.72 131.22 L122.96 128.33 L124.20 125.65 L125.44 123.14 L126.68 120.79 L127.91 118.76 L129.15 116.75 L130.39 114.93 L131.62 113.22 L132.86 111.58 L134.10 110.03 L135.34 108.52 L136.57 107.00 L137.81 105.69 L139.05 104.53 L140.29 103.30 L141.53 102.23 L142.76 101.24 L144.00 100.22 L145.24 99.24 L146.47 98.34 L147.71 97.44 L148.95 96.48 L150.19 95.69 L151.43 94.88 L152.66 94.08 L153.90 93.32 L155.14 92.77 L156.38 92.25 L157.61 91.64 L158.85 91.09 L160.09 90.64 L161.32 90.14 L162.56 89.50 L163.80 88.81 L165.04 88.22 L166.28 87.65 L167.51 87.15 L168.75 86.65 L169.99 86.29 L171.23 85.89 L172.46 85.47 L173.70 84.89 L174.94 84.38 L176.18 83.96 L177.41 83.63 L178.65 83.23 L179.89 82.99 L181.12 82.72 L182.36 82.39 L183.60 81.94 L184.84 81.55 L186.07 81.27 L187.31 80.86 L188.55 80.55 L189.79 80.25 L191.03 80.02 L192.26 79.51 L193.50 79.24 L194.74 78.87 L195.98 78.61 L197.21 78.22 L198.45 77.99 L199.69 77.75 L200.93 77.52 L202.16 77.23 L203.40 77.05 L204.64 76.72 L205.88 76.40 L207.11 76.15 L208.35 75.94 L209.59 75.60 L210.82 75.42 L212.06 75.20 L213.30 74.98 L214.54 74.58 L215.78 74.33 L217.01 74.11 L218.25 73.88 L219.49 73.63 L220.73 73.49 L221.96 73.32 L223.20 73.15 L224.44 72.94 L225.68 72.70 L226.91 72.42 L228.15 72.18 L229.39 71.89 L230.62 71.69 L231.86 71.46 L233.10 71.27 L234.34 71.04 L235.58 70.78 L236.81 70.56 L238.05 70.41 L239.29 70.20 L240.53 70.08 L241.76 69.92 L243.00 69.71 L244.24 69.57 L245.47 69.44 L246.71 69.24 L247.95 69.11 L249.19 68.95 L250.43 68.77 L251.66 68.62 L252.90 68.46 L254.14 68.22 L255.38 68.04 L256.61 67.79 L257.85 67.51 L259.09 67.41 L260.33 67.24 L261.56 67.05 L262.80 66.91 L264.04 66.89 L265.27 66.58 L266.51 66.45 L267.75 66.32 L268.99 66.20 L270.23 65.92 L271.46 65.74 L272.70 65.64 L273.94 65.47 L275.18 65.24 L276.41 65.10 L277.65 65.04 L278.89 64.74 L280.12 64.59 L281.36 64.48 L282.60 64.42 L283.84 64.31 L285.08 64.23 L286.31 64.08 L287.55 63.96 L288.79 63.83 L290.02 63.59 L291.26 63.43 L292.50 63.26 L293.74 63.07 L294.98 62.92 L296.21 62.78 L297.45 62.63 L298.69 62.52 L299.93 62.40 L301.16 62.16 L302.40 62.11 L303.64 62.03 L304.88 61.80 L306.11 61.65 L307.35 61.62 L308.59 61.56 L309.83 61.50 L311.06 61.49 L312.30 61.27 L313.54 61.20 L314.77 60.86 L316.01 60.69 L317.25 60.57 L318.49 60.52 L319.73 60.40 L320.96 60.37 L322.20 60.17 L323.44 60.14 L324.68 60.09 L325.91 59.97 L327.15 59.88 L328.39 59.84 L329.62 59.53 L330.86 59.43 L332.10 59.19 L333.34 59.11 L334.58 58.98 L335.81 58.97 L337.05 58.77 L338.29 58.77 L339.52 58.58 L340.76 58.46 L342.00 58.43 L343.24 58.37 L344.48 58.21 L345.71 58.22 L346.95 58.21 L348.19 58.07 L349.43 57.93 L350.66 57.81 L351.90 57.69 L353.14 57.50 L354.38 57.46 L355.61 57.26 L356.85 57.20 L358.09 56.97 L359.32 56.91 L360.56 56.72 L361.80 56.70 L363.04 56.56 L364.28 56.61 L365.51 56.52 L366.75 56.41 L367.99 56.35 L369.23 56.29 L370.46 56.14 L371.70 56.03 L372.94 55.91 L374.18 55.80 L375.41 55.70 L376.65 55.62 L377.89 55.44 L379.12 55.39 L380.36 55.21 L381.60 55.12 L382.84 55.03 L384.07 55.01 L385.31 54.92 L386.55 54.92 L387.79 54.82 L389.03 54.69 L390.26 54.52 L391.50 54.46 L392.74 54.41 L393.98 54.36 L395.21 54.20 L396.45 54.19 L397.69 54.04 L398.93 53.84 L400.16 53.69 L401.40 53.73 L402.64 53.61 L403.88 53.48 L405.11 53.36 L406.35 53.20 L407.59 53.04 L408.82 52.97 L410.06 52.93 L411.30 52.97 L412.54 52.89 L413.78 52.82 L415.01 52.76 L416.25 52.75 L417.49 52.73 L418.73 52.73 L419.96 52.61 L421.20 52.56 L422.44 52.44 L423.68 52.34 L424.91 52.30 L426.15 52.29 L427.39 52.12 L428.62 51.90 L429.86 51.70 L431.10 51.55 L432.34 51.46 L433.57 51.37 L434.81 51.44 L436.05 51.49 L437.29 51.37 L438.53 51.33 L439.76 51.25 L441.00 51.13 L442.24 50.94 L443.48 51.01 L444.71 50.84 L445.95 50.79 L447.19 50.68 L448.43 50.72 L449.66 50.58 L450.90 50.61 L452.14 50.49 L453.38 50.46 L454.61 50.33 L455.85 50.19 L457.09 50.06 L458.32 50.06 L459.56 50.00 L460.80 49.88 L462.04 49.97 L463.28 49.82 L464.51 49.75 L465.75 49.71 L466.99 49.62 L468.23 49.33 L469.46 49.35 L470.70 49.28 L471.94 49.15 L473.18 49.11 L474.41 49.22 L475.65 49.12 L476.89 49.09 L478.12 49.01 L479.36 49.03 L480.60 48.91 L481.84 48.87 L483.07 48.80 L484.31 48.75 L485.55 48.64 L486.79 48.55" stroke="#7f7f7f" stroke-dasharray="5.55 2.4" stroke-dashoffset="4.4"/>
<path d="M94.50 380.98 L95.74 355.28 L96.97 335.65 L98.21 317.27 L99.45 299.78 L100.69 283.64 L101.92 268.97 L103.16 255.75 L104.40 243.93 L105.64 233.39 L106.88 224.00 L108.11 215.64 L109.35 208.19 L110.59 201.56 L111.83 195.61 L113.06 190.26 L114.30 185.41 L115.54 181.00 L116.78 176.98 L118.01 173.29 L119.25 169.89 L120.49 166.76 L121.72 163.86 L122.96 161.17 L124.20 158.68 L125.44 155.98 L126.68 153.90 L127.91 151.84 L129.15 150.16 L130.39 148.49 L131.62 146.77 L132.86 145.32 L134.10 143.93 L135.34 142.45 L136.57 141.13 L137.81 139.89 L139.05 138.60 L140.29 137.40 L141.53 136.34 L142.76 135.40 L144.00 134.56 L145.24 133.77 L146.47 132.94 L147.71 132.26 L148.95 131.42 L150.19 130.60 L151.43 129.77 L152.66 129.09 L153.90 128.30 L155.14 127.75 L156.38 127.29 L157.61 126.82 L158.85 126.34 L160.09 125.76 L161.32 125.13 L162.56 124.49 L163.80 123.86 L165.04 123.44 L166.28 123.25 L167.51 123.01 L168.75 122.65 L169.99 122.42 L171.23 122.09 L172.46 121.69 L173.70 121.33 L174.94 121.06 L176.18 120.77 L177.41 120.42 L178.65 119.97 L179.89 119.61 L181.12 119.26 L182.36 118.97 L183.60 118.60 L184.84 118.36 L186.07 118.18 L187.31 118.00 L188.55 117.78 L189.79 117.68 L191.03 117.46 L192.26 117.10 L193.50 116.91 L194.74 116.74 L195.98 116.43 L197.21 116.31 L198.45 116.33 L199.69 116.02 L200.93 116.00 L202.16 115.96 L203.40 115.71 L204.64 115.43 L205.88 115.30 L207.11 114.93 L208.35 114.79 L209.59 114.86 L210.82 114.68 L212.06 114.62 L213.30 114.49 L214.54 114.42 L215.78 114.28 L217.01 114.24 L218.25 114.25 L219.49 114.24 L220.73 114.19 L221.96 114.19 L223.20 114.16 L224.44 113.94 L225.68 113.88 L226.91 113.78 L228.15 113.34 L229.39 113.20 L230.62 113.17 L231.86 112.95 L233.10 112.72 L234.34 112.80 L235.58 112.70 L236.81 112.47 L238.05 112.41 L239.29 112.46 L240.53 112.34 L241.76 112.23 L243.00 112.29 L244.24 112.23 L245.47 112.12 L246.71 112.06 L247.95 112.22 L249.19 112.22 L250.43 112.37 L251.66 112.31 L252.90 112.44 L254.14 112.29 L255.38 112.33 L256.61 112.04 L257.85 112.03 L259.09 111.92 L260.33 111.91 L261.56 111.87 L262.80 111.99 L264.04 111.89 L265.27 111.70 L266.51 111.56 L267.75 111.40 L268.99 111.29 L270.23 111.33 L271.46 111.31 L272.70 111.35 L273.94 111.39 L275.18 111.36 L276.41 111.35 L277.65 111.29 L278.89 111.14 L280.12 111.11 L281.36 111.12 L282.60 111.06 L283.84 111.14 L285.08 111.30 L286.31 111.25 L287.55 111.11 L288.79 111.03 L290.02 110.98 L291.26 110.81 L292.50 110.78 L293.74 110.77 L294.98 110.78 L296.21 110.57 L297.45 110.57 L298.69 110.64 L299.93 110.56 L301.16 110.66 L302.40 110.69 L303.64 110.67 L304.88 110.54 L306.11 110.54 L307.35 110.27 L308.59 110.33 L309.83 110.28 L311.06 110.30 L312.30 110.34 L313.54 110.36 L314.77 110.26 L316.01 110.17 L317.25 110.02 L318.49 109.88 L319.73 109.93 L320.96 110.11 L322.20 110.15 L323.44 110.08 L324.68 110.22 L325.91 110.09 L327.15 109.87 L328.39 109.95 L329.62 109.92 L330.86 109.76 L332.10 109.80 L333.34 109.88 L334.58 109.83 L335.81 109.93 L337.05 109.98 L338.29 110.03 L339.52 110.10 L340.76 110.10 L342.00 110.13 L343.24 110.05 L344.48 109.90 L345.71 109.81 L346.95 109.89 L348.19 109.82 L349.43 109.89 L350.66 109.96 L351.90 109.95 L353.14 109.80 L354.38 109.89 L355.61 110.04 L356.85 110.05 L358.09 110.13 L359.32 110.06 L360.56 109.85 L361.80 109.62 L363.04 109.50 L364.28 109.54 L365.51 109.59 L366.75 109.51 L367.99 109.54 L369.23 109.66 L370.46 109.39 L371.70 109.27 L372.94 109.28 L374.18 109.27 L375.41 109.19 L376.65 109.16 L377.89 109.39 L379.12 109.48 L380.36 109.50 L381.60 109.45 L382.84 109.67 L384.07 109.52 L385.31 109.51 L386.55 109.41 L387.79 109.51 L389.03 109.30 L390.26 109.22 L391.50 109.12 L392.74 109.20 L393.98 109.27 L395.21 109.35 L396.45 109.38 L397.69 109.44 L398.93 109.38 L400.16 109.13 L401.40 109.04 L402.64 108.93 L403.88 108.93 L405.11 108.96 L406.35 109.08 L407.59 109.08 L408.82 109.21 L410.06 109.13 L411.30 109.00 L412.54 108.97 L413.78 108.97 L415.01 108.93 L416.25 108.93 L417.49 108.82 L418.73 108.88 L419.96 108.87 L421.20 108.72 L422.44 108.64 L423.68 108.61 L424.91 108.51 L426.15 108.52 L427.39 108.68 L428.62 108.81 L429.86 108.98 L431.10 109.09 L432.34 109.19 L433.57 109.07 L434.81 109.08 L436.05 109.05 L437.29 108.95 L438.53 108.65 L439.76 108.72 L441.00 108.71 L442.24 108.66 L443.48 108.63 L444.71 108.67 L445.95 108.73 L447.19 108.63 L448.43 108.77 L449.66 108.71 L450.90 108.66 L452.14 108.61 L453.38 108.60 L454.61 108.59 L455.85 108.53 L457.09 108.56 L458.32 108.54 L459.56 108.52 L460.80 108.43 L462.04 108.53 L463.28 108.54 L464.51 108.46 L465.75 108.47 L466.99 108.35 L468.23 108.18 L469.46 108.27 L470.70 108.31 L471.94 108.37 L473.18 108.50 L474.41 108.58 L475.65 108.54 L476.89 108.54 L478.12 108.47 L479.36 108.28 L480.60 108.11 L481.84 108.05 L483.07 107.92 L484.31 107.91 L485.55 107.99 L486.79 108.14" stroke="#7f7f7f" stroke-linecap="square"/>
<path d="M94.50 370.52 L95.74 342.88 L96.97 313.98 L98.21 290.04 L99.45 270.36 L100.69 253.98 L101.92 240.15 L103.16 228.14 L104.40 217.30 L105.64 207.22 L106.88 197.71 L108.11 188.88 L109.35 180.81 L110.59 173.54 L111.83 166.97 L113.06 161.03 L114.30 155.64 L115.54 150.73 L116.78 146.25 L118.01 142.16 L119.25 138.41 L120.49 134.99 L121.72 131.84 L122.96 128.94 L124.20 126.27 L125.44 123.64 L126.68 121.43 L127.91 119.27 L129.15 117.31 L130.39 115.50 L131.62 113.76 L132.86 112.09 L134.10 110.53 L135.34 109.10 L136.57 107.62 L137.81 106.34 L139.05 105.25 L140.29 104.11 L141.53 103.02 L142.76 101.95 L144.00 100.91 L145.24 99.91 L146.47 99.02 L147.71 98.07 L148.95 97.32 L150.19 96.57 L151.43 95.66 L152.66 94.91 L153.90 94.23 L155.14 93.62 L156.38 92.89 L157.61 92.33 L158.85 91.65 L160.09 91.08 L161.32 90.32 L162.56 89.84 L163.80 89.38 L165.04 88.89 L166.28 88.35 L167.51 87.90 L168.75 87.23 L169.99 86.70 L171.23 86.16 L172.46 85.66 L173.70 85.30 L174.94 85.09 L176.18 84.71 L177.41 84.45 L178.65 84.15 L179.89 83.73 L181.12 83.30 L182.36 82.88 L183.60 82.57 L184.84 82.24 L186.07 81.78 L187.31 81.37 L188.55 81.07 L189.79 80.61 L191.03 80.29 L192.26 80.18 L193.50 79.87 L194.74 79.69 L195.98 79.40 L197.21 79.15 L198.45 78.74 L199.69 78.47 L200.93 78.10 L202.16 77.83 L203.40 77.43 L204.64 77.27 L205.88 77.10 L207.11 76.84 L208.35 76.58 L209.59 76.39 L210.82 76.08 L212.06 75.67 L213.30 75.41 L214.54 75.20 L215.78 74.99 L217.01 74.69 L218.25 74.56 L219.49 74.34 L220.73 74.16 L221.96 73.80 L223.20 73.65 L224.44 73.40 L225.68 73.17 L226.91 72.95 L228.15 72.78 L229.39 72.55 L230.62 72.40 L231.86 72.22 L233.10 71.96 L234.34 71.79 L235.58 71.54 L236.81 71.19 L238.05 70.97 L239.29 70.80 L240.53 70.54 L241.76 70.40 L243.00 70.31 L244.24 70.11 L245.47 69.84 L246.71 69.69 L247.95 69.51 L249.19 69.31 L250.43 69.25 L251.66 69.11 L252.90 68.94 L254.14 68.79 L255.38 68.68 L256.61 68.47 L257.85 68.42 L259.09 68.28 L260.33 68.18 L261.56 67.91 L262.80 67.64 L264.04 67.37 L265.27 67.14 L266.51 66.88 L267.75 66.80 L268.99 66.60 L270.23 66.41 L271.46 66.30 L272.70 66.13 L273.94 65.94 L275.18 65.82 L276.41 65.70 L277.65 65.57 L278.89 65.41 L280.12 65.27 L281.36 65.13 L282.60 65.02 L283.84 64.88 L285.08 64.80 L286.31 64.66 L287.55 64.50 L288.79 64.32 L290.02 64.15 L291.26 63.97 L292.50 63.81 L293.74 63.70 L294.98 63.55 L296.21 63.44 L297.45 63.32 L298.69 63.14 L299.93 62.94 L301.16 62.77 L302.40 62.66 L303.64 62.52 L304.88 62.42 L306.11 62.47 L307.35 62.39 L308.59 62.15 L309.83 62.03 L311.06 62.00 L312.30 61.82 L313.54 61.78 L314.77 61.76 L316.01 61.67 L317.25 61.52 L318.49 61.39 L319.73 61.19 L320.96 61.02 L322.20 60.87 L323.44 60.76 L324.68 60.63 L325.91 60.60 L327.15 60.54 L328.39 60.33 L329.62 60.12 L330.86 59.97 L332.10 59.79 L333.34 59.66 L334.58 59.53 L335.81 59.48 L337.05 59.40 L338.29 59.18 L339.52 58.98 L340.76 58.94 L342.00 58.75 L343.24 58.67 L344.48 58.54 L345.71 58.52 L346.95 58.42 L348.19 58.47 L349.43 58.31 L350.66 58.29 L351.90 58.16 L353.14 58.13 L354.38 57.95 L355.61 57.89" stroke="#bcbd22" stroke-dasharray="5.55 2.4" stroke-dashoffset="4.0"/>
<path d="M94.50 390.25 L95.74 356.57 L96.97 325.63 L98.21 300.44 L99.45 279.73 L100.69 262.38 L101.92 247.59 L103.16 234.82 L104.40 223.66 L105.64 213.80 L106.88 204.98 L108.11 197.00 L109.35 189.71 L110.59 183.01 L111.83 176.82 L113.06 171.10 L114.30 165.80 L115.54 160.90 L116.78 156.36 L118.01 152.18 L119.25 148.31 L120.49 144.74 L121.72 141.44 L122.96 138.41 L124.20 135.61 L125.44 133.03 L126.68 130.71 L127.91 128.66 L129.15 126.55 L130.39 124.49 L131.62 122.75 L132.86 121.16 L134.10 119.55 L135.34 118.10 L136.57 116.83 L137.81 115.65 L139.05 114.37 L140.29 113.32 L141.53 112.40 L142.76 111.49 L144.00 110.59 L145.24 109.94 L146.47 109.14 L147.71 108.27 L148.95 107.42 L150.19 106.63 L151.43 105.86 L152.66 105.35 L153.90 104.80 L155.14 104.29 L156.38 103.80 L157.61 103.29 L158.85 102.74 L160.09 102.30 L161.32 101.89 L162.56 101.48 L163.80 100.95 L165.04 100.58 L166.28 100.18 L167.51 99.83 L168.75 99.46 L169.99 99.33 L171.23 98.93 L172.46 98.55 L173.70 98.22 L174.94 97.84 L176.18 97.61 L177.41 97.59 L178.65 97.32 L179.89 97.05 L181.12 96.97 L182.36 96.72 L183.60 96.27 L184.84 96.02 L186.07 95.90 L187.31 95.59 L188.55 95.32 L189.79 95.24 L191.03 94.95 L192.26 94.72 L193.50 94.63 L194.74 94.51 L195.98 94.22 L197.21 94.13 L198.45 93.94 L199.69 93.70 L200.93 93.37 L202.16 93.10 L203.40 93.02 L204.64 92.87 L205.88 92.61 L207.11 92.60 L208.35 92.54 L209.59 92.36 L210.82 92.17 L212.06 92.01 L213.30 91.75 L214.54 91.68 L215.78 91.54 L217.01 91.47 L218.25 91.41 L219.49 91.22 L220.73 91.03 L221.96 90.89 L223.20 90.61 L224.44 90.47 L225.68 90.37 L226.91 90.33 L228.15 90.29 L229.39 90.17 L230.62 89.99 L231.86 89.94 L233.10 89.73 L234.34 89.60 L235.58 89.69 L236.81 89.62 L238.05 89.45 L239.29 89.48 L240.53 89.29 L241.76 89.10 L243.00 89.08 L244.24 89.06 L245.47 88.95 L246.71 88.86 L247.95 88.83 L249.19 88.68 L250.43 88.52 L251.66 88.40 L252.90 88.42 L254.14 88.37 L255.38 88.31 L256.61 88.29 L257.85 88.05 L259.09 87.84 L260.33 87.86 L261.56 87.71 L262.80 87.64 L264.04 87.65 L265.27 87.77 L266.51 87.56 L267.75 87.53 L268.99 87.42 L270.23 87.49 L271.46 87.33 L272.70 87.20 L273.94 87.06 L275.18 86.98 L276.41 86.87 L277.65 86.76 L278.89 86.67 L280.12 86.76 L281.36 86.78 L282.60 86.68 L283.84 86.54 L285.08 86.69 L286.31 86.78 L287.55 86.76 L288.79 86.89 L290.02 86.93 L291.26 86.77 L292.50 86.78 L293.74 86.76 L294.98 86.62 L296.21 86.67 L297.45 86.61 L298.69 86.44 L299.93 86.42 L301.16 86.52 L302.40 86.69 L303.64 86.84 L304.88 86.90 L306.11 86.86 L307.35 86.68 L308.59 86.44 L309.83 86.32 L311.06 86.27 L312.30 86.28 L313.54 86.20 L314.77 86.37 L316.01 86.46 L317.25 86.50 L318.49 86.49 L319.73 86.64 L320.96 86.51 L322.20 86.48 L323.44 86.45 L324.68 86.48 L325.91 86.48 L327.15 86.49 L328.39 86.48 L329.62 86.39 L330.86 86.38 L332.10 86.30 L333.34 86.29 L334.58 86.28 L335.81 86.36 L337.05 86.52 L338.29 86.74 L339.52 86.85 L340.76 86.88 L342.00 86.89 L343.24 86.69 L344.48 86.48 L345.71 86.41 L346.95 86.31 L348.19 86.32 L349.43 86.56 L350.66 86.67 L351.90 86.64 L353.14 86.83 L354.38 86.88 L355.61 86.80" stroke="#bcbd22" stroke-linecap="square"/>
<path d="M94.50 368.67 L95.74 341.03 L96.97 312.13 L98.21 288.19 L99.45 268.51 L100.69 252.13 L101.92 238.30 L103.16 226.29 L104.40 215.45 L105.64 205.37 L106.88 195.86 L108.11 187.03 L109.35 178.96 L110.59 171.69 L111.83 165.12 L113.06 159.18 L114.30 153.79 L115.54 148.88 L116.78 144.40 L118.01 140.31 L119.25 136.56 L120.49 133.14 L121.72 129.99 L122.96 127.09 L124.20 124.42 L125.44 121.82 L126.68 119.64 L127.91 117.44 L129.15 115.43 L130.39 113.59 L131.62 111.90 L132.86 110.21 L134.10 108.63 L135.34 107.14 L136.57 105.80 L137.81 104.50 L139.05 103.32 L140.29 102.30 L141.53 101.25 L142.76 100.13 L144.00 99.08 L145.24 98.11 L146.47 96.99 L147.71 96.04 L148.95 95.27 L150.19 94.49 L151.43 93.67 L152.66 93.05 L153.90 92.31 L155.14 91.51 L156.38 90.85 L157.61 90.20 L158.85 89.55 L160.09 89.04 L161.32 88.60 L162.56 88.11 L163.80 87.58 L165.04 87.07 L166.28 86.55 L167.51 85.99 L168.75 85.44 L169.99 85.01 L171.23 84.65 L172.46 84.31 L173.70 83.83 L174.94 83.43 L176.18 83.07 L177.41 82.63 L178.65 82.12 L179.89 81.72 L181.12 81.30 L182.36 80.85 L183.60 80.44 L184.84 80.16 L186.07 79.88 L187.31 79.63 L188.55 79.31 L189.79 79.08 L191.03 78.69 L192.26 78.41 L193.50 78.04 L194.74 77.81 L195.98 77.41 L197.21 77.13 L198.45 76.85 L199.69 76.60 L200.93 76.28 L202.16 75.98 L203.40 75.79 L204.64 75.37 L205.88 75.16 L207.11 74.94 L208.35 74.83 L209.59 74.48 L210.82 74.37 L212.06 74.13 L213.30 73.86 L214.54 73.60 L215.78 73.36 L217.01 73.09 L218.25 72.79 L219.49 72.58 L220.73 72.27 L221.96 72.09 L223.20 71.89 L224.44 71.72 L225.68 71.41 L226.91 71.15 L228.15 70.91 L229.39 70.68 L230.62 70.43 L231.86 70.29 L233.10 70.12 L234.34 69.96 L235.58 69.76 L236.81 69.53 L238.05 69.21 L239.29 69.07 L240.53 68.78 L241.76 68.51 L243.00 68.34 L244.24 68.20 L245.47 67.94 L246.71 67.77 L247.95 67.67 L249.19 67.47 L250.43 67.44 L251.66 67.35 L252.90 67.21 L254.14 66.98 L255.38 66.89 L256.61 66.65 L257.85 66.46 L259.09 66.25 L260.33 66.19 L261.56 65.93 L262.80 65.62 L264.04 65.41 L265.27 65.21 L266.51 64.95 L267.75 64.74 L268.99 64.68 L270.23 64.58 L271.46 64.44 L272.70 64.25 L273.94 64.20 L275.18 63.99 L276.41 63.84 L277.65 63.75 L278.89 63.77 L280.12 63.62 L281.36 63.56 L282.60 63.30 L283.84 63.15 L285.08 62.87 L286.31 62.62 L287.55 62.51 L288.79 62.35 L290.02 62.20 L291.26 62.09 L292.50 62.07 L293.74 61.94 L294.98 61.94 L296.21 61.83 L297.45 61.79 L298.69 61.63 L299.93 61.38 L301.16 61.24 L302.40 61.12 L303.64 60.87 L304.88 60.81 L306.11 60.69 L307.35 60.60 L308.59 60.39 L309.83 60.32 L311.06 60.15 L312.30 60.07 L313.54 59.77 L314.77 59.77 L316.01 59.70 L317.25 59.50 L318.49 59.33 L319.73 59.31 L320.96 59.09 L322.20 58.91 L323.44 58.81 L324.68 58.73 L325.91 58.59 L327.15 58.50 L328.39 58.41 L329.62 58.33 L330.86 58.19 L332.10 58.08 L333.34 58.03 L334.58 57.88 L335.81 57.66 L337.05 57.53 L338.29 57.40 L339.52 57.24 L340.76 57.22 L342.00 57.24 L343.24 57.23 L344.48 57.14 L345.71 57.11 L346.95 56.93 L348.19 56.84 L349.43 56.68 L350.66 56.61 L351.90 56.39 L353.14 56.39 L354.38 56.28 L355.61 56.17 L356.85 55.99 L358.09 55.93 L359.32 55.75 L360.56 55.65 L361.80 55.54 L363.04 55.50 L364.28 55.45 L365.51 55.35 L366.75 55.29 L367.99 55.23 L369.23 55.13 L370.46 54.93 L371.70 54.79 L372.94 54.70 L374.18 54.59 L375.41 54.53 L376.65 54.50 L377.89 54.43 L379.12 54.28 L380.36 54.20 L381.60 54.04 L382.84 53.87 L384.07 53.70 L385.31 53.52 L386.55 53.42 L387.79 53.38 L389.03 53.37 L390.26 53.32 L391.50 53.34 L392.74 53.23 L393.98 53.18 L395.21 53.08 L396.45 52.95 L397.69 52.90 L398.93 52.85 L400.16 52.70 L401.40 52.57 L402.64 52.58 L403.88 52.38 L405.11 52.19 L406.35 52.02 L407.59 51.93 L408.82 51.81 L410.06 51.82 L411.30 51.79 L412.54 51.77 L413.78 51.81 L415.01 51.71 L416.25 51.57 L417.49 51.46 L418.73 51.27 L419.96 51.07 L421.20 50.98 L422.44 50.86 L423.68 50.81 L424.91 50.83 L426.15 50.76 L427.39 50.69" stroke="#17becf" stroke-dasharray="5.55 2.4" stroke-dashoffset="5.5"/>
<path d="M94.50 397.34 L95.74 362.48 L96.97 336.79 L98.21 319.44 L99.45 306.26 L100.69 291.18 L101.92 273.49 L103.16 258.28 L104.40 247.21 L105.64 238.27 L106.88 230.39 L108.11 223.35 L109.35 216.99 L110.59 211.13 L111.83 205.62 L113.06 200.38 L114.30 195.34 L115.54 190.44 L116.78 185.68 L118.01 181.27 L119.25 177.48 L120.49 174.42 L121.72 171.92 L122.96 169.84 L124.20 168.05 L125.44 166.55 L126.68 165.23 L127.91 163.95 L129.15 162.43 L130.39 161.04 L131.62 159.77 L132.86 158.41 L134.10 157.04 L135.34 155.86 L136.57 154.84 L137.81 153.70 L139.05 152.62 L140.29 151.65 L141.53 150.96 L142.76 149.99 L144.00 149.14 L145.24 148.27 L146.47 147.38 L147.71 146.47 L148.95 145.54 L150.19 144.71 L151.43 143.65 L152.66 142.80 L153.90 141.98 L155.14 141.36 L156.38 140.56 L157.61 140.10 L158.85 139.59 L160.09 138.93 L161.32 138.23 L162.56 137.67 L163.80 137.27 L165.04 136.85 L166.28 136.37 L167.51 135.90 L168.75 135.40 L169.99 134.74 L171.23 134.07 L172.46 133.54 L173.70 133.18 L174.94 132.57 L176.18 132.16 L177.41 131.77 L178.65 131.43 L179.89 131.07 L181.12 130.99 L182.36 130.74 L183.60 130.47 L184.84 130.06 L186.07 129.67 L187.31 129.24 L188.55 128.92 L189.79 128.64 L191.03 128.42 L192.26 128.17 L193.50 128.03 L194.74 127.76 L195.98 127.61 L197.21 127.33 L198.45 127.07 L199.69 126.79 L200.93 126.61 L202.16 126.42 L203.40 126.26 L204.64 126.09 L205.88 125.98 L207.11 125.92 L208.35 125.65 L209.59 125.49 L210.82 125.27 L212.06 124.99 L213.30 124.72 L214.54 124.54 L215.78 124.41 L217.01 124.31 L218.25 124.18 L219.49 124.01 L220.73 123.70 L221.96 123.52 L223.20 123.46 L224.44 123.45 L225.68 123.39 L226.91 123.28 L228.15 123.14 L229.39 123.01 L230.62 122.76 L231.86 122.61 L233.10 122.76 L234.34 122.62 L235.58 122.49 L236.81 122.38 L238.05 122.30 L239.29 121.97 L240.53 121.75 L241.76 121.62 L243.00 121.47 L244.24 121.32 L245.47 121.20 L246.71 121.29 L247.95 121.19 L249.19 121.08 L250.43 121.15 L251.66 121.10 L252.90 121.03 L254.14 120.90 L255.38 121.04 L256.61 120.92 L257.85 120.97 L259.09 120.84 L260.33 120.78 L261.56 120.58 L262.80 120.45 L264.04 120.45 L265.27 120.52 L266.51 120.54 L267.75 120.46 L268.99 120.37 L270.23 120.17 L271.46 119.94 L272.70 119.88 L273.94 119.93 L275.18 119.99 L276.41 119.96 L277.65 119.98 L278.89 119.82 L280.12 119.68 L281.36 119.64 L282.60 119.57 L283.84 119.70 L285.08 119.84 L286.31 120.00 L287.55 119.81 L288.79 119.86 L290.02 119.69 L291.26 119.50 L292.50 119.32 L293.74 119.50 L294.98 119.38 L296.21 119.21 L297.45 119.34 L298.69 119.41 L299.93 119.30 L301.16 119.35 L302.40 119.47 L303.64 119.26 L304.88 119.21 L306.11 119.18 L307.35 119.22 L308.59 119.12 L309.83 119.17 L311.06 119.12 L312.30 119.12 L313.54 119.05 L314.77 119.13 L316.01 119.11 L317.25 119.14 L318.49 119.16 L319.73 119.05 L320.96 118.96 L322.20 118.85 L323.44 118.84 L324.68 118.65 L325.91 118.56 L327.15 118.59 L328.39 118.69 L329.62 118.55 L330.86 118.51 L332.10 118.65 L333.34 118.60 L334.58 118.68 L335.81 118.72 L337.05 118.79 L338.29 118.71 L339.52 118.62 L340.76 118.43 L342.00 118.24 L343.24 118.30 L344.48 118.33 L345.71 118.40 L346.95 118.51 L348.19 118.63 L349.43 118.49 L350.66 118.35 L351.90 118.19 L353.14 117.94 L354.38 117.98 L355.61 118.04 L356.85 118.11 L358.09 118.15 L359.32 118.24 L360.56 118.23 L361.80 118.20 L363.04 118.10 L364.28 117.93 L365.51 117.86 L366.75 117.73 L367.99 117.62 L369.23 117.77 L370.46 117.89 L371.70 118.00 L372.94 117.94 L374.18 117.92 L375.41 117.71 L376.65 117.72 L377.89 117.73 L379.12 117.80 L380.36 117.79 L381.60 117.87 L382.84 117.86 L384.07 117.73 L385.31 117.60 L386.55 117.57 L387.79 117.53 L389.03 117.50 L390.26 117.53 L391.50 117.50 L392.74 117.50 L393.98 117.51 L395.21 117.40 L396.45 117.43 L397.69 117.38 L398.93 117.41 L400.16 117.40 L401.40 117.55 L402.64 117.39 L403.88 117.65 L405.11 117.74 L406.35 117.86 L407.59 117.80 L408.82 117.79 L410.06 117.64 L411.30 117.40 L412.54 117.33 L413.78 117.02 L415.01 117.17 L416.25 117.11 L417.49 117.22 L418.73 117.08 L419.96 117.41 L421.20 117.34 L422.44 117.30 L423.68 117.16 L424.91 117.21 L426.15 117.11 L427.39 117.10" stroke="#17becf" stroke-linecap="square"/>
<line x1="403.88" y1="20" x2="403.88" y2="454" stroke="#1f77b4" stroke-opacity="0.3" stroke-width="1.6"/>
<line x1="609.30" y1="20" x2="609.30" y2="454" stroke="#ff7f0e" stroke-opacity="0.3" stroke-width="1.6"/>
<line x1="403.88" y1="20" x2="403.88" y2="454" stroke="#2ca02c" stroke-opacity="0.3" stroke-width="1.6"/>
<line x1="509.06" y1="20" x2="509.06" y2="454" stroke="#d62728" stroke-opacity="0.3" stroke-width="1.6"/>
<line x1="594.45" y1="20" x2="594.45" y2="454" stroke="#9467bd" stroke-opacity="0.3" stroke-width="1.6"/>
<line x1="462.04" y1="20" x2="462.04" y2="454" stroke="#8c564b" stroke-opacity="0.3" stroke-width="1.6"/>
<line x1="406.97" y1="20" x2="406.97" y2="454" stroke="#e377c2" stroke-opacity="0.3" stroke-width="1.6"/>
<line x1="424.91" y1="20" x2="424.91" y2="454" stroke="#7f7f7f" stroke-opacity="0.3" stroke-width="1.6"/>
<line x1="293.99" y1="20" x2="293.99" y2="454" stroke="#bcbd22" stroke-opacity="0.3" stroke-width="1.6"/>
<line x1="364.65" y1="20" x2="364.65" y2="454" stroke="#17becf" stroke-opacity="0.3" stroke-width="1.6"/>
</g>
<rect x="65.5" y="20.5" width="635" height="433" fill="none" stroke="#000" stroke-width="1"/>
<line x1="61.8" y1="29.5" x2="65.5" y2="29.5" stroke="#000" stroke-width="1"/>
<text x="58.5" y="32.5" font-family="Liberation Sans, sans-serif" font-size="11" font-weight="bold" stroke="#000" stroke-width="0.5" text-anchor="end" fill="#000">1.0</text>
<line x1="61.8" y1="91.5" x2="65.5" y2="91.5" stroke="#000" stroke-width="1"/>
<text x="58.5" y="94.5" font-family="Liberation Sans, sans-serif" font-size="11" font-weight="bold" stroke="#000" stroke-width="0.5" text-anchor="end" fill="#000">0.8</text>
<line x1="61.8" y1="152.5" x2="65.5" y2="152.5" stroke="#000" stroke-width="1"/>
<text x="58.5" y="155.5" font-family="Liberation Sans, sans-serif" font-size="11" font-weight="bold" stroke="#000" stroke-width="0.5" text-anchor="end" fill="#000">0.6</text>
<line x1="61.8" y1="214.5" x2="65.5" y2="214.5" stroke="#000" stroke-width="1"/>
<text x="58.5" y="217.5" font-family="Liberation Sans, sans-serif" font-size="11" font-weight="bold" stroke="#000" stroke-width="0.5" text-anchor="end" fill="#000">0.4</text>
<line x1="61.8" y1="276.5" x2="65.5" y2="276.5" stroke="#000" stroke-width="1"/>
<text x="58.5" y="279.5" font-family="Liberation Sans, sans-serif" font-size="11" font-weight="bold" stroke="#000" stroke-width="0.5" text-anchor="end" fill="#000">0.2</text>
<line x1="61.8" y1="337.5" x2="65.5" y2="337.5" stroke="#000" stroke-width="1"/>
<text x="58.5" y="340.5" font-family="Liberation Sans, sans-serif" font-size="11" font-weight="bold" stroke="#000" stroke-width="0.5" text-anchor="end" fill="#000">0.0</text>
<line x1="61.8" y1="399.5" x2="65.5" y2="399.5" stroke="#000" stroke-width="1"/>
<text x="58.5" y="402.5" font-family="Liberation Sans, sans-serif" font-size="11" font-weight="bold" stroke="#000" stroke-width="0.5" text-anchor="end" fill="#000">0.2</text>
<rect x="35" y="398.9" width="7.4" height="1.2" fill="#000"/>
<line x1="94.5" y1="453.5" x2="94.5" y2="457.8" stroke="#000" stroke-width="1"/>
<text x="94.5" y="468" font-family="Liberation Sans, sans-serif" font-size="11" font-weight="bold" stroke="#000" stroke-width="0.5" text-anchor="middle" fill="#000">0</text>
<line x1="218.5" y1="453.5" x2="218.5" y2="457.8" stroke="#000" stroke-width="1"/>
<text x="218.5" y="468" font-family="Liberation Sans, sans-serif" font-size="11" font-weight="bold" stroke="#000" stroke-width="0.5" text-anchor="middle" fill="#000">100</text>
<line x1="342.5" y1="453.5" x2="342.5" y2="457.8" stroke="#000" stroke-width="1"/>
<text x="342.5" y="468" font-family="Liberation Sans, sans-serif" font-size="11" font-weight="bold" stroke="#000" stroke-width="0.5" text-anchor="middle" fill="#000">200</text>
<line x1="465.5" y1="453.5" x2="465.5" y2="457.8" stroke="#000" stroke-width="1"/>
<text x="465.5" y="468" font-family="Liberation Sans, sans-serif" font-size="11" font-weight="bold" stroke="#000" stroke-width="0.5" text-anchor="middle" fill="#000">300</text>
<line x1="589.5" y1="453.5" x2="589.5" y2="457.8" stroke="#000" stroke-width="1"/>
<text x="589.5" y="468" font-family="Liberation Sans, sans-serif" font-size="11" font-weight="bold" stroke="#000" stroke-width="0.5" text-anchor="middle" fill="#000">400</text>
<text x="382.5" y="482" font-family="Liberation Sans, sans-serif" font-size="11" font-weight="bold" stroke="#000" stroke-width="0.5" text-anchor="middle" fill="#000">#Iteration</text>
<text x="0" y="0" transform="translate(28,238) rotate(-90)" font-family="Liberation Sans, sans-serif" font-size="11" font-weight="bold" stroke="#000" stroke-width="0.5" text-anchor="middle" fill="#000">r2</text>
<rect x="593.5" y="145.5" width="102" height="302.5" rx="2" ry="2" fill="#ffffff" fill-opacity="0.8" stroke="#cccccc" stroke-width="1"/>
<line x1="597" y1="154" x2="617" y2="154" stroke="#1f77b4" stroke-width="1.5" stroke-dasharray="5.55 2.4"/>
<text x="625.5" y="157" font-family="Liberation Sans, sans-serif" font-size="11.2" fill="#000">Fold 1, train</text>
<line x1="597" y1="169" x2="617" y2="169" stroke="#1f77b4" stroke-width="1.5" stroke-linecap="square"/>
<text x="625.5" y="172" font-family="Liberation Sans, sans-serif" font-size="11.2" fill="#000">Fold 1, test</text>
<line x1="597" y1="184" x2="617" y2="184" stroke="#ff7f0e" stroke-width="1.5" stroke-dasharray="5.55 2.4"/>
<text x="625.5" y="187" font-family="Liberation Sans, sans-serif" font-size="11.2" fill="#000">Fold 2, train</text>
<line x1="597" y1="199" x2="617" y2="199" stroke="#ff7f0e" stroke-width="1.5" stroke-linecap="square"/>
<text x="625.5" y="202" font-family="Liberation Sans, sans-serif" font-size="11.2" fill="#000">Fold 2, test</text>
<line x1="597" y1="214" x2="617" y2="214" stroke="#2ca02c" stroke-width="1.5" stroke-dasharray="5.55 2.4"/>
<text x="625.5" y="217" font-family="Liberation Sans, sans-serif" font-size="11.2" fill="#000">Fold 3, train</text>
<line x1="597" y1="229" x2="617" y2="229" stroke="#2ca02c" stroke-width="1.5" stroke-linecap="square"/>
<text x="625.5" y="232" font-family="Liberation Sans, sans-serif" font-size="11.2" fill="#000">Fold 3, test</text>
<line x1="597" y1="244" x2="617" y2="244" stroke="#d62728" stroke-width="1.5" stroke-dasharray="5.55 2.4"/>
<text x="625.5" y="247" font-family="Liberation Sans, sans-serif" font-size="11.2" fill="#000">Fold 4, train</text>
<line x1="597" y1="259" x2="617" y2="259" stroke="#d62728" stroke-width="1.5" stroke-linecap="square"/>
<text x="625.5" y="262" font-family="Liberation Sans, sans-serif" font-size="11.2" fill="#000">Fold 4, test</text>
<line x1="597" y1="274" x2="617" y2="274" stroke="#9467bd" stroke-width="1.5" stroke-dasharray="5.55 2.4"/>
<text x="625.5" y="277" font-family="Liberation Sans, sans-serif" font-size="11.2" fill="#000">Fold 5, train</text>
<line x1="597" y1="289" x2="617" y2="289" stroke="#9467bd" stroke-width="1.5" stroke-linecap="square"/>
<text x="625.5" y="292" font-family="Liberation Sans, sans-serif" font-size="11.2" fill="#000">Fold 5, test</text>
<line x1="597" y1="304" x2="617" y2="304" stroke="#8c564b" stroke-width="1.5" stroke-dasharray="5.55 2.4"/>
<text x="625.5" y="307" font-family="Liberation Sans, sans-serif" font-size="11.2" fill="#000">Fold 6, train</text>
<line x1="597" y1="319" x2="617" y2="319" stroke="#8c564b" stroke-width="1.5" stroke-linecap="square"/>
<text x="625.5" y="322" font-family="Liberation Sans, sans-serif" font-size="11.2" fill="#000">Fold 6, test</text>
<line x1="597" y1="334" x2="617" y2="334" stroke="#e377c2" stroke-width="1.5" stroke-dasharray="5.55 2.4"/>
<text x="625.5" y="337" font-family="Liberation Sans, sans-serif" font-size="11.2" fill="#000">Fold 7, train</text>
<line x1="597" y1="349" x2="617" y2="349" stroke="#e377c2" stroke-width="1.5" stroke-linecap="square"/>
<text x="625.5" y="352" font-family="Liberation Sans, sans-serif" font-size="11.2" fill="#000">Fold 7, test</text>
<line x1="597" y1="364" x2="617" y2="364" stroke="#7f7f7f" stroke-width="1.5" stroke-dasharray="5.55 2.4"/>
<text x="625.5" y="367" font-family="Liberation Sans, sans-serif" font-size="11.2" fill="#000">Fold 8, train</text>
<line x1="597" y1="379" x2="617" y2="379" stroke="#7f7f7f" stroke-width="1.5" stroke-linecap="square"/>
<text x="625.5" y="382" font-family="Liberation Sans, sans-serif" font-size="11.2" fill="#000">Fold 8, test</text>
<line x1="597" y1="394" x2="617" y2="394" stroke="#bcbd22" stroke-width="1.5" stroke-dasharray="5.55 2.4"/>
<text x="625.5" y="397" font-family="Liberation Sans, sans-serif" font-size="11.2" fill="#000">Fold 9, train</text>
<line x1="597" y1="409" x2="617" y2="409" stroke="#bcbd22" stroke-width="1.5" stroke-linecap="square"/>
<text x="625.5" y="412" font-family="Liberation Sans, sans-serif" font-size="11.2" fill="#000">Fold 9, test</text>
<line x1="597" y1="424" x2="617" y2="424" stroke="#17becf" stroke-width="1.5" stroke-dasharray="5.55 2.4"/>
<text x="625.5" y="427" font-family="Liberation Sans, sans-serif" font-size="11.2" fill="#000">Fold 10, train</text>
<line x1="597" y1="439" x2="617" y2="439" stroke="#17becf" stroke-width="1.5" stroke-linecap="square"/>
<text x="625.5" y="442" font-family="Liberation Sans, sans-serif" font-size="11.2" fill="#000">Fold 10, test</text>
</svg></body></html>
